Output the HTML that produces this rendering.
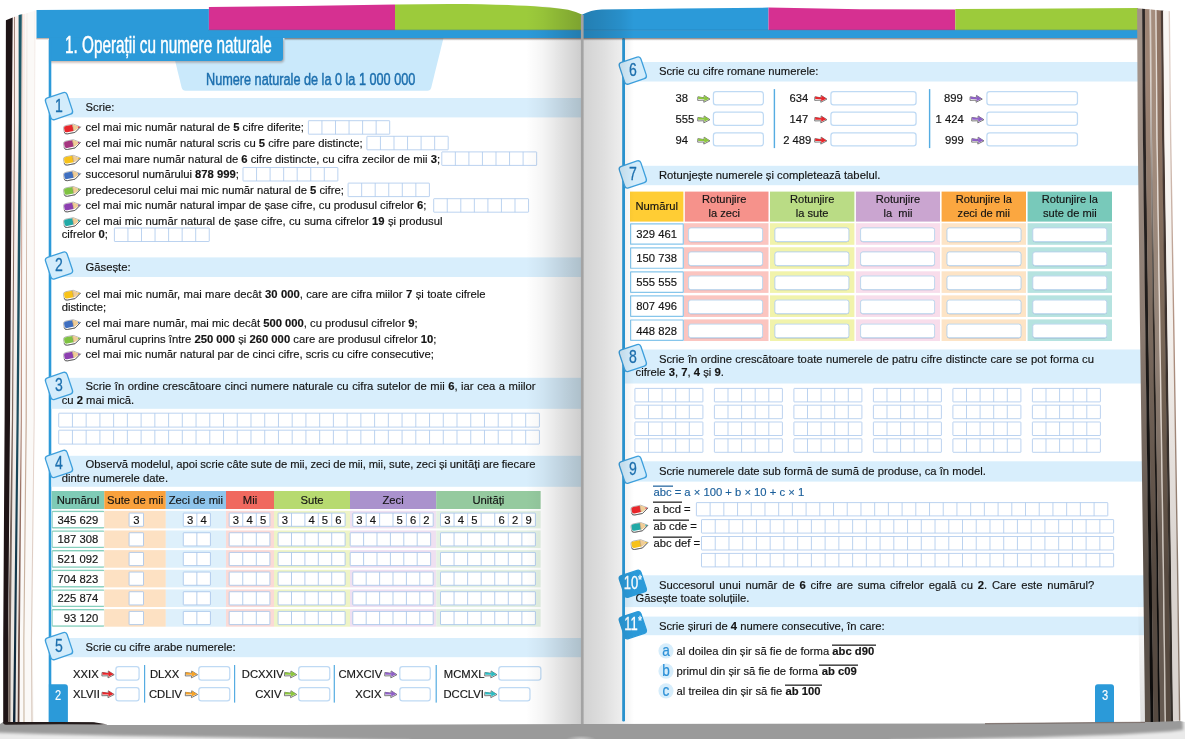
<!DOCTYPE html>
<html lang="ro"><head><meta charset="utf-8"><title>Operații cu numere naturale</title>
<style>
html,body{margin:0;padding:0;background:#fff;}
body{width:1185px;height:739px;overflow:hidden;position:relative;font-family:"Liberation Sans",sans-serif;}
#p{position:absolute;left:0;top:0;width:1185px;height:739px;overflow:hidden;}
#p div,#p svg{position:absolute;}
.bg{left:0;top:0;}
.t{font-size:11.25px;line-height:13px;color:#141414;white-space:nowrap;-webkit-text-stroke:.16px #141414;}
.t b{font-weight:700;}
.hd{font-family:"Liberation Sans",sans-serif;white-space:nowrap;}
.ov{position:relative;}
.ov::before,.ov::after{content:"";position:absolute;left:0;right:-1.4px;height:1px;background:currentColor;}
.ov::before{top:-1.4px;opacity:.45;}
.ov::after{top:-.4px;opacity:.75;}
.sh{pointer-events:none;}
</style></head>
<body><div id="p">
<svg class="bg" width="1185" height="739" viewBox="0 0 1185 739"><defs><radialGradient id="spot" cx="0.5" cy="1" r="1" gradientTransform="translate(0.5 1) scale(0.5 1) translate(-0.5 -1)"><stop offset="0" stop-color="#fff" stop-opacity="0.45"/><stop offset="1" stop-color="#fff" stop-opacity="0"/></radialGradient><linearGradient id="tsh" x1="0" y1="0" x2="0" y2="1"><stop offset="0" stop-color="#6b4a3a" stop-opacity="0.55"/><stop offset="1" stop-color="#6b4a3a" stop-opacity="0"/></linearGradient></defs><rect width="1185" height="739" fill="#fff"/><linearGradient id="la" x1="0" y1="0" x2="0" y2="1"><stop offset="0" stop-color="#8a6a60"/><stop offset="1" stop-color="#6f625b"/></linearGradient><linearGradient id="lb" x1="0" y1="0" x2="0" y2="1"><stop offset="0" stop-color="#e2c4b8"/><stop offset="0.5" stop-color="#c09484"/><stop offset="1" stop-color="#573a33"/></linearGradient><linearGradient id="lc" x1="0" y1="0" x2="0" y2="1"><stop offset="0" stop-color="#f3ede8"/><stop offset="0.5" stop-color="#c3a694"/><stop offset="1" stop-color="#cdbca8"/></linearGradient><linearGradient id="ld" x1="0" y1="0" x2="0" y2="1"><stop offset="0" stop-color="#f7f1ee"/><stop offset="0.5" stop-color="#e8d6d0"/><stop offset="1" stop-color="#d6c6ba"/></linearGradient><linearGradient id="lt" x1="0" y1="0" x2="0" y2="1"><stop offset="0" stop-color="#1d5a6a"/><stop offset="0.6" stop-color="#1a4a5c"/><stop offset="1" stop-color="#0c2236"/></linearGradient><linearGradient id="lp" x1="0" y1="0" x2="0" y2="1"><stop offset="0" stop-color="#fbeeea"/><stop offset="0.5" stop-color="#f4efec"/><stop offset="1" stop-color="#e9e4df"/></linearGradient><path d="M12.5 17.6 L36.5 10.2 L35 120 L34.8 420 L32.6 640 L34 722.5 L8 722.5 L10 420 L11.9 120 Z" fill="#fbf9f7"/><path d="M12.6 17.6 L25 13.8 L24.9 120 L20.8 420 L18 640 L17 722.5 L8 722.5 L10 420 L11.9 120 Z" fill="url(#lp)"/><path d="M5.9 20.2 L12.7 17.6 L11.9 120 L10 420 L8.1 640 L8.2 723 L3.2 723 L3.2 640 L4.6 420 L5.7 120 Z" fill="#1e1416"/><path d="M14.2 17 L15 16.8 L14.9 120 L13.1 420 L10.8 640 L10.4 722.5 L8.2 722.5 L8.2 640 L11.9 420 L14.1 120 Z" fill="url(#la)"/><path d="M18.6 15 L21.8 14.2 L21.4 120 L18.7 420 L16.2 640 L15.4 722.5 L13 722.5 L14.1 640 L16.5 420 L18.7 120 Z" fill="url(#lt)"/><path d="M22 14.2 L22.8 14 L22.2 120 L21.9 420 L19.9 640 L19.4 722.5 L17.6 722.5 L18.1 640 L20.8 420 L21.4 120 Z" fill="url(#lb)"/><path d="M26.6 13.2 L27.4 13 L27.2 120 L26.8 420 L24.4 640 L24.6 722.5 L23.4 722.5 L23.3 640 L25.6 420 L26.4 120 Z" fill="url(#lc)"/><path d="M34.4 10.8 L35.2 10.6 L34.8 120 L34.6 420 L32 640 L32.6 722.5 L31.4 722.5 L30.9 640 L33.7 420 L34 120 Z" fill="url(#ld)"/><path d="M36.5 10.1 L208.9 9 L208.9 38 L36.5 38 Z" fill="#2b9ad9"/><path d="M208.9 7.1 L300 5.9 L395 4.6 L395 30.4 L208.9 30.4 Z" fill="#d63091"/><path d="M395 4.6 L450 3.9 C500 4 545 6.2 568 9.7 Q576 11.6 581.8 14.6 L581.8 30.4 L395 30.4 Z" fill="#9ccb3b"/><rect x="208" y="30.2" width="374" height="7.8" fill="#2b9ad9"/><path d="M581.8 14.7 C588 11.5 594 9.8 602 9.4 L680 8.4 L768.5 7.6 L768.5 30.4 L581.8 30.4 Z" fill="#2b9ad9"/><path d="M768.5 7.6 L860 9.3 L955.3 9.6 L955.3 30.4 L768.5 30.4 Z" fill="#d63091"/><path d="M955.3 8.9 L1138 8.1 L1138 30.4 L955.3 30.4 Z" fill="#9ccb3b"/><rect x="581.8" y="30.2" width="556.5" height="7.8" fill="#2b9ad9"/><rect x="208.5" y="29.6" width="930" height="1" fill="#1f6fa3" opacity="0.45"/><rect x="36.3" y="38" width="13" height="2" fill="url(#tsh)"/></svg>
<svg class="bg" width="1185" height="739" viewBox="0 0 1185 739"><defs><filter id="b1" x="-5%" y="-30%" width="110%" height="160%"><feGaussianBlur stdDeviation="0.9"/></filter><filter id="b2" x="-10%" y="-30%" width="120%" height="160%"><feGaussianBlur stdDeviation="0.55"/></filter></defs>
<path d="M169.5 38 H443.5 L431.2 87.8 Q430.4 90.7 427.4 90.7 H185.5 Q182.5 90.7 181.7 87.8 Z" fill="#cae9fb"/>
<path d="M50 39.5 H284 V59.6 Q284 62.5 281 62.5 H50 Z" fill="#6e4637" opacity=".42" filter="url(#b1)"/>
<path d="M49 37.5 H283 V58 Q283 61 280 61 H49 Z" fill="#2b9ad9"/>
<rect x="48.7" y="40" width="2.6" height="682" fill="#2b9ad9"/>
<rect x="51.5" y="98" width="530" height="19.4" fill="#d8eefc"/>
<rect x="-11.35" y="-11.35" width="22.7" height="22.7" rx="3" fill="#d3ecfb" stroke="#3d9fdc" stroke-width="1.3" transform="translate(59 106.1) rotate(-18.5)"/>
<g transform="translate(62.75 122.45) rotate(-11 10 6.5) scale(0.955)"><path d="M4 1.9 H11.9 L18.9 6.2 L12.2 10.8 H4 Q1.1 10.8 1.1 8.2 V4.5 Q1.1 1.9 4 1.9 Z" fill="#fff" stroke="#9a9a9a" stroke-width="0.7" stroke-linejoin="round"/><path d="M4 2.3 H11 V9.1 H4 Q1.7 9.1 1.7 7.3 V4.3 Q1.7 2.3 4 2.3 Z" fill="#e8262b"/><path d="M11 2.3 L12 2.3 L16.3 5 L16.3 7.2 L12.2 9.1 L11 9.1 Z" fill="#f0cd96"/><path d="M16.3 5 L18.3 6.2 L16.3 7.2 Z" fill="#e8262b"/><path d="M11 2.3 V9.1" stroke="#9c8468" stroke-width="0.5" fill="none"/><path d="M1.1 8.2 Q1.1 10.8 4 10.8 H12.2 L18.9 6.2" stroke="#5a5a5a" stroke-width="0.85" fill="none" stroke-linejoin="round"/></g>
<g fill="#fff" stroke="#adc9ec" stroke-width="0.82"><rect x="308.4" y="120.7" width="81.3" height="13.5" rx="0.4"/><path d="M321.95 120.7V134.2M335.5 120.7V134.2M349.05 120.7V134.2M362.6 120.7V134.2M376.15 120.7V134.2" fill="none"/></g>
<g transform="translate(62.75 138.05) rotate(-11 10 6.5) scale(0.955)"><path d="M4 1.9 H11.9 L18.9 6.2 L12.2 10.8 H4 Q1.1 10.8 1.1 8.2 V4.5 Q1.1 1.9 4 1.9 Z" fill="#fff" stroke="#9a9a9a" stroke-width="0.7" stroke-linejoin="round"/><path d="M4 2.3 H11 V9.1 H4 Q1.7 9.1 1.7 7.3 V4.3 Q1.7 2.3 4 2.3 Z" fill="#a5357f"/><path d="M11 2.3 L12 2.3 L16.3 5 L16.3 7.2 L12.2 9.1 L11 9.1 Z" fill="#f0cd96"/><path d="M16.3 5 L18.3 6.2 L16.3 7.2 Z" fill="#a5357f"/><path d="M11 2.3 V9.1" stroke="#9c8468" stroke-width="0.5" fill="none"/><path d="M1.1 8.2 Q1.1 10.8 4 10.8 H12.2 L18.9 6.2" stroke="#5a5a5a" stroke-width="0.85" fill="none" stroke-linejoin="round"/></g>
<g fill="#fff" stroke="#adc9ec" stroke-width="0.82"><rect x="366.9" y="136.3" width="81.3" height="13.5" rx="0.4"/><path d="M380.45 136.3V149.8M394 136.3V149.8M407.55 136.3V149.8M421.1 136.3V149.8M434.65 136.3V149.8" fill="none"/></g>
<g transform="translate(62.75 153.65) rotate(-11 10 6.5) scale(0.955)"><path d="M4 1.9 H11.9 L18.9 6.2 L12.2 10.8 H4 Q1.1 10.8 1.1 8.2 V4.5 Q1.1 1.9 4 1.9 Z" fill="#fff" stroke="#9a9a9a" stroke-width="0.7" stroke-linejoin="round"/><path d="M4 2.3 H11 V9.1 H4 Q1.7 9.1 1.7 7.3 V4.3 Q1.7 2.3 4 2.3 Z" fill="#f7c21a"/><path d="M11 2.3 L12 2.3 L16.3 5 L16.3 7.2 L12.2 9.1 L11 9.1 Z" fill="#f0cd96"/><path d="M16.3 5 L18.3 6.2 L16.3 7.2 Z" fill="#f7c21a"/><path d="M11 2.3 V9.1" stroke="#9c8468" stroke-width="0.5" fill="none"/><path d="M1.1 8.2 Q1.1 10.8 4 10.8 H12.2 L18.9 6.2" stroke="#5a5a5a" stroke-width="0.85" fill="none" stroke-linejoin="round"/></g>
<g fill="#fff" stroke="#adc9ec" stroke-width="0.82"><rect x="441.8" y="151.9" width="94.85" height="13.5" rx="0.4"/><path d="M455.35 151.9V165.4M468.9 151.9V165.4M482.45 151.9V165.4M496 151.9V165.4M509.55 151.9V165.4M523.1 151.9V165.4" fill="none"/></g>
<g transform="translate(62.75 169.25) rotate(-11 10 6.5) scale(0.955)"><path d="M4 1.9 H11.9 L18.9 6.2 L12.2 10.8 H4 Q1.1 10.8 1.1 8.2 V4.5 Q1.1 1.9 4 1.9 Z" fill="#fff" stroke="#9a9a9a" stroke-width="0.7" stroke-linejoin="round"/><path d="M4 2.3 H11 V9.1 H4 Q1.7 9.1 1.7 7.3 V4.3 Q1.7 2.3 4 2.3 Z" fill="#3f6fc0"/><path d="M11 2.3 L12 2.3 L16.3 5 L16.3 7.2 L12.2 9.1 L11 9.1 Z" fill="#f0cd96"/><path d="M16.3 5 L18.3 6.2 L16.3 7.2 Z" fill="#3f6fc0"/><path d="M11 2.3 V9.1" stroke="#9c8468" stroke-width="0.5" fill="none"/><path d="M1.1 8.2 Q1.1 10.8 4 10.8 H12.2 L18.9 6.2" stroke="#5a5a5a" stroke-width="0.85" fill="none" stroke-linejoin="round"/></g>
<g fill="#fff" stroke="#adc9ec" stroke-width="0.82"><rect x="243" y="167.5" width="94.85" height="13.5" rx="0.4"/><path d="M256.55 167.5V181M270.1 167.5V181M283.65 167.5V181M297.2 167.5V181M310.75 167.5V181M324.3 167.5V181" fill="none"/></g>
<g transform="translate(62.75 184.85) rotate(-11 10 6.5) scale(0.955)"><path d="M4 1.9 H11.9 L18.9 6.2 L12.2 10.8 H4 Q1.1 10.8 1.1 8.2 V4.5 Q1.1 1.9 4 1.9 Z" fill="#fff" stroke="#9a9a9a" stroke-width="0.7" stroke-linejoin="round"/><path d="M4 2.3 H11 V9.1 H4 Q1.7 9.1 1.7 7.3 V4.3 Q1.7 2.3 4 2.3 Z" fill="#7fc242"/><path d="M11 2.3 L12 2.3 L16.3 5 L16.3 7.2 L12.2 9.1 L11 9.1 Z" fill="#f0cd96"/><path d="M16.3 5 L18.3 6.2 L16.3 7.2 Z" fill="#7fc242"/><path d="M11 2.3 V9.1" stroke="#9c8468" stroke-width="0.5" fill="none"/><path d="M1.1 8.2 Q1.1 10.8 4 10.8 H12.2 L18.9 6.2" stroke="#5a5a5a" stroke-width="0.85" fill="none" stroke-linejoin="round"/></g>
<g fill="#fff" stroke="#adc9ec" stroke-width="0.82"><rect x="348.1" y="183.1" width="81.3" height="13.5" rx="0.4"/><path d="M361.65 183.1V196.6M375.2 183.1V196.6M388.75 183.1V196.6M402.3 183.1V196.6M415.85 183.1V196.6" fill="none"/></g>
<g transform="translate(62.75 200.45) rotate(-11 10 6.5) scale(0.955)"><path d="M4 1.9 H11.9 L18.9 6.2 L12.2 10.8 H4 Q1.1 10.8 1.1 8.2 V4.5 Q1.1 1.9 4 1.9 Z" fill="#fff" stroke="#9a9a9a" stroke-width="0.7" stroke-linejoin="round"/><path d="M4 2.3 H11 V9.1 H4 Q1.7 9.1 1.7 7.3 V4.3 Q1.7 2.3 4 2.3 Z" fill="#8c3fb0"/><path d="M11 2.3 L12 2.3 L16.3 5 L16.3 7.2 L12.2 9.1 L11 9.1 Z" fill="#f0cd96"/><path d="M16.3 5 L18.3 6.2 L16.3 7.2 Z" fill="#8c3fb0"/><path d="M11 2.3 V9.1" stroke="#9c8468" stroke-width="0.5" fill="none"/><path d="M1.1 8.2 Q1.1 10.8 4 10.8 H12.2 L18.9 6.2" stroke="#5a5a5a" stroke-width="0.85" fill="none" stroke-linejoin="round"/></g>
<g fill="#fff" stroke="#adc9ec" stroke-width="0.82"><rect x="433.7" y="198.7" width="94.85" height="13.5" rx="0.4"/><path d="M447.25 198.7V212.2M460.8 198.7V212.2M474.35 198.7V212.2M487.9 198.7V212.2M501.45 198.7V212.2M515 198.7V212.2" fill="none"/></g>
<g transform="translate(62.75 216.05) rotate(-11 10 6.5) scale(0.955)"><path d="M4 1.9 H11.9 L18.9 6.2 L12.2 10.8 H4 Q1.1 10.8 1.1 8.2 V4.5 Q1.1 1.9 4 1.9 Z" fill="#fff" stroke="#9a9a9a" stroke-width="0.7" stroke-linejoin="round"/><path d="M4 2.3 H11 V9.1 H4 Q1.7 9.1 1.7 7.3 V4.3 Q1.7 2.3 4 2.3 Z" fill="#22a9a6"/><path d="M11 2.3 L12 2.3 L16.3 5 L16.3 7.2 L12.2 9.1 L11 9.1 Z" fill="#f0cd96"/><path d="M16.3 5 L18.3 6.2 L16.3 7.2 Z" fill="#22a9a6"/><path d="M11 2.3 V9.1" stroke="#9c8468" stroke-width="0.5" fill="none"/><path d="M1.1 8.2 Q1.1 10.8 4 10.8 H12.2 L18.9 6.2" stroke="#5a5a5a" stroke-width="0.85" fill="none" stroke-linejoin="round"/></g>
<g fill="#fff" stroke="#adc9ec" stroke-width="0.82"><rect x="114.4" y="228" width="94.85" height="13.5" rx="0.4"/><path d="M127.95 228V241.5M141.5 228V241.5M155.05 228V241.5M168.6 228V241.5M182.15 228V241.5M195.7 228V241.5" fill="none"/></g>
<rect x="51.5" y="257.4" width="530" height="19.6" fill="#d8eefc"/>
<rect x="-11.35" y="-11.35" width="22.7" height="22.7" rx="3" fill="#d3ecfb" stroke="#3d9fdc" stroke-width="1.3" transform="translate(59 265.5) rotate(-18.5)"/>
<g transform="translate(62.75 288.65) rotate(-11 10 6.5) scale(0.955)"><path d="M4 1.9 H11.9 L18.9 6.2 L12.2 10.8 H4 Q1.1 10.8 1.1 8.2 V4.5 Q1.1 1.9 4 1.9 Z" fill="#fff" stroke="#9a9a9a" stroke-width="0.7" stroke-linejoin="round"/><path d="M4 2.3 H11 V9.1 H4 Q1.7 9.1 1.7 7.3 V4.3 Q1.7 2.3 4 2.3 Z" fill="#f7c21a"/><path d="M11 2.3 L12 2.3 L16.3 5 L16.3 7.2 L12.2 9.1 L11 9.1 Z" fill="#f0cd96"/><path d="M16.3 5 L18.3 6.2 L16.3 7.2 Z" fill="#f7c21a"/><path d="M11 2.3 V9.1" stroke="#9c8468" stroke-width="0.5" fill="none"/><path d="M1.1 8.2 Q1.1 10.8 4 10.8 H12.2 L18.9 6.2" stroke="#5a5a5a" stroke-width="0.85" fill="none" stroke-linejoin="round"/></g>
<g transform="translate(62.75 318.05) rotate(-11 10 6.5) scale(0.955)"><path d="M4 1.9 H11.9 L18.9 6.2 L12.2 10.8 H4 Q1.1 10.8 1.1 8.2 V4.5 Q1.1 1.9 4 1.9 Z" fill="#fff" stroke="#9a9a9a" stroke-width="0.7" stroke-linejoin="round"/><path d="M4 2.3 H11 V9.1 H4 Q1.7 9.1 1.7 7.3 V4.3 Q1.7 2.3 4 2.3 Z" fill="#3f6fc0"/><path d="M11 2.3 L12 2.3 L16.3 5 L16.3 7.2 L12.2 9.1 L11 9.1 Z" fill="#f0cd96"/><path d="M16.3 5 L18.3 6.2 L16.3 7.2 Z" fill="#3f6fc0"/><path d="M11 2.3 V9.1" stroke="#9c8468" stroke-width="0.5" fill="none"/><path d="M1.1 8.2 Q1.1 10.8 4 10.8 H12.2 L18.9 6.2" stroke="#5a5a5a" stroke-width="0.85" fill="none" stroke-linejoin="round"/></g>
<g transform="translate(62.75 333.75) rotate(-11 10 6.5) scale(0.955)"><path d="M4 1.9 H11.9 L18.9 6.2 L12.2 10.8 H4 Q1.1 10.8 1.1 8.2 V4.5 Q1.1 1.9 4 1.9 Z" fill="#fff" stroke="#9a9a9a" stroke-width="0.7" stroke-linejoin="round"/><path d="M4 2.3 H11 V9.1 H4 Q1.7 9.1 1.7 7.3 V4.3 Q1.7 2.3 4 2.3 Z" fill="#7fc242"/><path d="M11 2.3 L12 2.3 L16.3 5 L16.3 7.2 L12.2 9.1 L11 9.1 Z" fill="#f0cd96"/><path d="M16.3 5 L18.3 6.2 L16.3 7.2 Z" fill="#7fc242"/><path d="M11 2.3 V9.1" stroke="#9c8468" stroke-width="0.5" fill="none"/><path d="M1.1 8.2 Q1.1 10.8 4 10.8 H12.2 L18.9 6.2" stroke="#5a5a5a" stroke-width="0.85" fill="none" stroke-linejoin="round"/></g>
<g transform="translate(62.75 349.45) rotate(-11 10 6.5) scale(0.955)"><path d="M4 1.9 H11.9 L18.9 6.2 L12.2 10.8 H4 Q1.1 10.8 1.1 8.2 V4.5 Q1.1 1.9 4 1.9 Z" fill="#fff" stroke="#9a9a9a" stroke-width="0.7" stroke-linejoin="round"/><path d="M4 2.3 H11 V9.1 H4 Q1.7 9.1 1.7 7.3 V4.3 Q1.7 2.3 4 2.3 Z" fill="#8c3fb0"/><path d="M11 2.3 L12 2.3 L16.3 5 L16.3 7.2 L12.2 9.1 L11 9.1 Z" fill="#f0cd96"/><path d="M16.3 5 L18.3 6.2 L16.3 7.2 Z" fill="#8c3fb0"/><path d="M11 2.3 V9.1" stroke="#9c8468" stroke-width="0.5" fill="none"/><path d="M1.1 8.2 Q1.1 10.8 4 10.8 H12.2 L18.9 6.2" stroke="#5a5a5a" stroke-width="0.85" fill="none" stroke-linejoin="round"/></g>
<rect x="51.5" y="377.8" width="530" height="31" fill="#d8eefc"/>
<rect x="-11.35" y="-11.35" width="22.7" height="22.7" rx="3" fill="#d3ecfb" stroke="#3d9fdc" stroke-width="1.3" transform="translate(59 385.9) rotate(-18.5)"/>
<g fill="#fff" stroke="#adc9ec" stroke-width="0.82"><rect x="58.7" y="413.2" width="480.72" height="13.9" rx="0.4"/><path d="M72.44 413.2V427.1M86.17 413.2V427.1M99.91 413.2V427.1M113.64 413.2V427.1M127.38 413.2V427.1M141.11 413.2V427.1M154.84 413.2V427.1M168.58 413.2V427.1M182.31 413.2V427.1M196.05 413.2V427.1M209.78 413.2V427.1M223.52 413.2V427.1M237.25 413.2V427.1M250.99 413.2V427.1M264.72 413.2V427.1M278.46 413.2V427.1M292.19 413.2V427.1M305.93 413.2V427.1M319.66 413.2V427.1M333.4 413.2V427.1M347.13 413.2V427.1M360.87 413.2V427.1M374.6 413.2V427.1M388.34 413.2V427.1M402.07 413.2V427.1M415.81 413.2V427.1M429.54 413.2V427.1M443.28 413.2V427.1M457.01 413.2V427.1M470.75 413.2V427.1M484.48 413.2V427.1M498.22 413.2V427.1M511.95 413.2V427.1M525.69 413.2V427.1" fill="none"/></g>
<g fill="#fff" stroke="#adc9ec" stroke-width="0.82"><rect x="58.7" y="430.2" width="480.72" height="13.9" rx="0.4"/><path d="M72.44 430.2V444.1M86.17 430.2V444.1M99.91 430.2V444.1M113.64 430.2V444.1M127.38 430.2V444.1M141.11 430.2V444.1M154.84 430.2V444.1M168.58 430.2V444.1M182.31 430.2V444.1M196.05 430.2V444.1M209.78 430.2V444.1M223.52 430.2V444.1M237.25 430.2V444.1M250.99 430.2V444.1M264.72 430.2V444.1M278.46 430.2V444.1M292.19 430.2V444.1M305.93 430.2V444.1M319.66 430.2V444.1M333.4 430.2V444.1M347.13 430.2V444.1M360.87 430.2V444.1M374.6 430.2V444.1M388.34 430.2V444.1M402.07 430.2V444.1M415.81 430.2V444.1M429.54 430.2V444.1M443.28 430.2V444.1M457.01 430.2V444.1M470.75 430.2V444.1M484.48 430.2V444.1M498.22 430.2V444.1M511.95 430.2V444.1M525.69 430.2V444.1" fill="none"/></g>
<rect x="51.5" y="455.8" width="530" height="31" fill="#d8eefc"/>
<rect x="-11.35" y="-11.35" width="22.7" height="22.7" rx="3" fill="#d3ecfb" stroke="#3d9fdc" stroke-width="1.3" transform="translate(59 463.9) rotate(-18.5)"/>
<rect x="51.5" y="491" width="52.85" height="18" fill="#7fcbb6"/>
<rect x="104.3" y="491" width="61.55" height="18" fill="#f9a13d"/>
<rect x="165.8" y="491" width="60.25" height="18" fill="#8fc5ec"/>
<rect x="226" y="491" width="48.05" height="18" fill="#f0695f"/>
<rect x="274" y="491" width="76.05" height="18" fill="#b7da70"/>
<rect x="350" y="491" width="86.25" height="18" fill="#aa92cd"/>
<rect x="436.2" y="491" width="104.45" height="18" fill="#95ca9f"/>
<rect x="51.8" y="510.8" width="52.5" height="17.6" rx="1.2" fill="#86cfbd"/>
<rect x="52.7" y="512.1" width="51.6" height="15" fill="#fff"/>
<rect x="104.3" y="510.8" width="61.55" height="17.6" fill="#fde1c3"/>
<rect x="165.8" y="510.8" width="60.25" height="17.6" fill="#def0fb"/>
<rect x="226" y="510.8" width="48.05" height="17.6" fill="#fbdad6"/>
<rect x="274" y="510.8" width="76.05" height="17.6" fill="#eef4c6"/>
<rect x="350" y="510.8" width="86.25" height="17.6" fill="#efe0f1"/>
<rect x="436.2" y="510.8" width="104.45" height="17.6" fill="#e4f1e3"/>
<g fill="#fff" stroke="#a8c5ea" stroke-width="0.85"><rect x="129.1" y="513.1" width="14.4" height="13.2" rx="0.4"/><path d="" fill="none"/></g>
<g fill="#fff" stroke="#a8c5ea" stroke-width="0.85"><rect x="183.3" y="513.1" width="27.12" height="13.2" rx="0.4"/><path d="M196.86 513.1V526.3" fill="none"/></g>
<g fill="#fff" stroke="#a8c5ea" stroke-width="0.85"><rect x="229.2" y="513.1" width="40.68" height="13.2" rx="0.4"/><path d="M242.76 513.1V526.3M256.32 513.1V526.3" fill="none"/></g>
<g fill="#fff" stroke="#a8c5ea" stroke-width="0.85"><rect x="278.1" y="513.1" width="67" height="13.2" rx="0.4"/><path d="M291.5 513.1V526.3M304.9 513.1V526.3M318.3 513.1V526.3M331.7 513.1V526.3" fill="none"/></g>
<g fill="#fff" stroke="#a8c5ea" stroke-width="0.85"><rect x="352.8" y="513.1" width="80.4" height="13.2" rx="0.4"/><path d="M366.2 513.1V526.3M379.6 513.1V526.3M393 513.1V526.3M406.4 513.1V526.3M419.8 513.1V526.3" fill="none"/></g>
<g fill="#fff" stroke="#a8c5ea" stroke-width="0.85"><rect x="440.5" y="513.1" width="94.92" height="13.2" rx="0.4"/><path d="M454.06 513.1V526.3M467.62 513.1V526.3M481.18 513.1V526.3M494.74 513.1V526.3M508.3 513.1V526.3M521.86 513.1V526.3" fill="none"/></g>
<rect x="51.8" y="530.46" width="52.5" height="17.6" rx="1.2" fill="#86cfbd"/>
<rect x="52.7" y="531.76" width="51.6" height="15" fill="#fff"/>
<rect x="104.3" y="530.46" width="61.55" height="17.6" fill="#fde1c3"/>
<rect x="165.8" y="530.46" width="60.25" height="17.6" fill="#def0fb"/>
<rect x="226" y="530.46" width="48.05" height="17.6" fill="#fbdad6"/>
<rect x="274" y="530.46" width="76.05" height="17.6" fill="#eef4c6"/>
<rect x="350" y="530.46" width="86.25" height="17.6" fill="#efe0f1"/>
<rect x="436.2" y="530.46" width="104.45" height="17.6" fill="#e4f1e3"/>
<g fill="#fff" stroke="#a8c5ea" stroke-width="0.85"><rect x="129.1" y="532.76" width="14.4" height="13.2" rx="0.4"/><path d="" fill="none"/></g>
<g fill="#fff" stroke="#a8c5ea" stroke-width="0.85"><rect x="183.3" y="532.76" width="27.12" height="13.2" rx="0.4"/><path d="M196.86 532.76V545.96" fill="none"/></g>
<g fill="#fff" stroke="#a8c5ea" stroke-width="0.85"><rect x="229.2" y="532.76" width="40.68" height="13.2" rx="0.4"/><path d="M242.76 532.76V545.96M256.32 532.76V545.96" fill="none"/></g>
<g fill="#fff" stroke="#a8c5ea" stroke-width="0.85"><rect x="278.1" y="532.76" width="67" height="13.2" rx="0.4"/><path d="M291.5 532.76V545.96M304.9 532.76V545.96M318.3 532.76V545.96M331.7 532.76V545.96" fill="none"/></g>
<g fill="#fff" stroke="#a8c5ea" stroke-width="0.85"><rect x="350.2" y="532.76" width="80.4" height="13.2" rx="0.4"/><path d="M363.6 532.76V545.96M377 532.76V545.96M390.4 532.76V545.96M403.8 532.76V545.96M417.2 532.76V545.96" fill="none"/></g>
<g fill="#fff" stroke="#a8c5ea" stroke-width="0.85"><rect x="440.5" y="532.76" width="94.92" height="13.2" rx="0.4"/><path d="M454.06 532.76V545.96M467.62 532.76V545.96M481.18 532.76V545.96M494.74 532.76V545.96M508.3 532.76V545.96M521.86 532.76V545.96" fill="none"/></g>
<rect x="51.8" y="550.12" width="52.5" height="17.6" rx="1.2" fill="#86cfbd"/>
<rect x="52.7" y="551.42" width="51.6" height="15" fill="#fff"/>
<rect x="104.3" y="550.12" width="61.55" height="17.6" fill="#fde1c3"/>
<rect x="165.8" y="550.12" width="60.25" height="17.6" fill="#def0fb"/>
<rect x="226" y="550.12" width="48.05" height="17.6" fill="#fbdad6"/>
<rect x="274" y="550.12" width="76.05" height="17.6" fill="#eef4c6"/>
<rect x="350" y="550.12" width="86.25" height="17.6" fill="#efe0f1"/>
<rect x="436.2" y="550.12" width="104.45" height="17.6" fill="#e4f1e3"/>
<g fill="#fff" stroke="#a8c5ea" stroke-width="0.85"><rect x="129.1" y="552.42" width="14.4" height="13.2" rx="0.4"/><path d="" fill="none"/></g>
<g fill="#fff" stroke="#a8c5ea" stroke-width="0.85"><rect x="183.3" y="552.42" width="27.12" height="13.2" rx="0.4"/><path d="M196.86 552.42V565.62" fill="none"/></g>
<g fill="#fff" stroke="#a8c5ea" stroke-width="0.85"><rect x="229.2" y="552.42" width="40.68" height="13.2" rx="0.4"/><path d="M242.76 552.42V565.62M256.32 552.42V565.62" fill="none"/></g>
<g fill="#fff" stroke="#a8c5ea" stroke-width="0.85"><rect x="278.1" y="552.42" width="67" height="13.2" rx="0.4"/><path d="M291.5 552.42V565.62M304.9 552.42V565.62M318.3 552.42V565.62M331.7 552.42V565.62" fill="none"/></g>
<g fill="#fff" stroke="#a8c5ea" stroke-width="0.85"><rect x="350.2" y="552.42" width="80.4" height="13.2" rx="0.4"/><path d="M363.6 552.42V565.62M377 552.42V565.62M390.4 552.42V565.62M403.8 552.42V565.62M417.2 552.42V565.62" fill="none"/></g>
<g fill="#fff" stroke="#a8c5ea" stroke-width="0.85"><rect x="440.5" y="552.42" width="94.92" height="13.2" rx="0.4"/><path d="M454.06 552.42V565.62M467.62 552.42V565.62M481.18 552.42V565.62M494.74 552.42V565.62M508.3 552.42V565.62M521.86 552.42V565.62" fill="none"/></g>
<rect x="51.8" y="569.78" width="52.5" height="17.6" rx="1.2" fill="#86cfbd"/>
<rect x="52.7" y="571.08" width="51.6" height="15" fill="#fff"/>
<rect x="104.3" y="569.78" width="61.55" height="17.6" fill="#fde1c3"/>
<rect x="165.8" y="569.78" width="60.25" height="17.6" fill="#def0fb"/>
<rect x="226" y="569.78" width="48.05" height="17.6" fill="#fbdad6"/>
<rect x="274" y="569.78" width="76.05" height="17.6" fill="#eef4c6"/>
<rect x="350" y="569.78" width="86.25" height="17.6" fill="#efe0f1"/>
<rect x="436.2" y="569.78" width="104.45" height="17.6" fill="#e4f1e3"/>
<g fill="#fff" stroke="#a8c5ea" stroke-width="0.85"><rect x="129.1" y="572.08" width="14.4" height="13.2" rx="0.4"/><path d="" fill="none"/></g>
<g fill="#fff" stroke="#a8c5ea" stroke-width="0.85"><rect x="183.3" y="572.08" width="27.12" height="13.2" rx="0.4"/><path d="M196.86 572.08V585.28" fill="none"/></g>
<g fill="#fff" stroke="#a8c5ea" stroke-width="0.85"><rect x="229.2" y="572.08" width="40.68" height="13.2" rx="0.4"/><path d="M242.76 572.08V585.28M256.32 572.08V585.28" fill="none"/></g>
<g fill="#fff" stroke="#a8c5ea" stroke-width="0.85"><rect x="278.1" y="572.08" width="67" height="13.2" rx="0.4"/><path d="M291.5 572.08V585.28M304.9 572.08V585.28M318.3 572.08V585.28M331.7 572.08V585.28" fill="none"/></g>
<g fill="#fff" stroke="#a8c5ea" stroke-width="0.85"><rect x="352.8" y="572.08" width="80.4" height="13.2" rx="0.4"/><path d="M366.2 572.08V585.28M379.6 572.08V585.28M393 572.08V585.28M406.4 572.08V585.28M419.8 572.08V585.28" fill="none"/></g>
<g fill="#fff" stroke="#a8c5ea" stroke-width="0.85"><rect x="440.5" y="572.08" width="94.92" height="13.2" rx="0.4"/><path d="M454.06 572.08V585.28M467.62 572.08V585.28M481.18 572.08V585.28M494.74 572.08V585.28M508.3 572.08V585.28M521.86 572.08V585.28" fill="none"/></g>
<rect x="51.8" y="589.44" width="52.5" height="17.6" rx="1.2" fill="#86cfbd"/>
<rect x="52.7" y="590.74" width="51.6" height="15" fill="#fff"/>
<rect x="104.3" y="589.44" width="61.55" height="17.6" fill="#fde1c3"/>
<rect x="165.8" y="589.44" width="60.25" height="17.6" fill="#def0fb"/>
<rect x="226" y="589.44" width="48.05" height="17.6" fill="#fbdad6"/>
<rect x="274" y="589.44" width="76.05" height="17.6" fill="#eef4c6"/>
<rect x="350" y="589.44" width="86.25" height="17.6" fill="#efe0f1"/>
<rect x="436.2" y="589.44" width="104.45" height="17.6" fill="#e4f1e3"/>
<g fill="#fff" stroke="#a8c5ea" stroke-width="0.85"><rect x="129.1" y="591.74" width="14.4" height="13.2" rx="0.4"/><path d="" fill="none"/></g>
<g fill="#fff" stroke="#a8c5ea" stroke-width="0.85"><rect x="183.3" y="591.74" width="27.12" height="13.2" rx="0.4"/><path d="M196.86 591.74V604.94" fill="none"/></g>
<g fill="#fff" stroke="#a8c5ea" stroke-width="0.85"><rect x="229.2" y="591.74" width="40.68" height="13.2" rx="0.4"/><path d="M242.76 591.74V604.94M256.32 591.74V604.94" fill="none"/></g>
<g fill="#fff" stroke="#a8c5ea" stroke-width="0.85"><rect x="278.1" y="591.74" width="67" height="13.2" rx="0.4"/><path d="M291.5 591.74V604.94M304.9 591.74V604.94M318.3 591.74V604.94M331.7 591.74V604.94" fill="none"/></g>
<g fill="#fff" stroke="#a8c5ea" stroke-width="0.85"><rect x="352.8" y="591.74" width="80.4" height="13.2" rx="0.4"/><path d="M366.2 591.74V604.94M379.6 591.74V604.94M393 591.74V604.94M406.4 591.74V604.94M419.8 591.74V604.94" fill="none"/></g>
<g fill="#fff" stroke="#a8c5ea" stroke-width="0.85"><rect x="440.5" y="591.74" width="94.92" height="13.2" rx="0.4"/><path d="M454.06 591.74V604.94M467.62 591.74V604.94M481.18 591.74V604.94M494.74 591.74V604.94M508.3 591.74V604.94M521.86 591.74V604.94" fill="none"/></g>
<rect x="51.8" y="609.1" width="52.5" height="17.6" rx="1.2" fill="#86cfbd"/>
<rect x="52.7" y="610.4" width="51.6" height="15" fill="#fff"/>
<rect x="104.3" y="609.1" width="61.55" height="17.6" fill="#fde1c3"/>
<rect x="165.8" y="609.1" width="60.25" height="17.6" fill="#def0fb"/>
<rect x="226" y="609.1" width="48.05" height="17.6" fill="#fbdad6"/>
<rect x="274" y="609.1" width="76.05" height="17.6" fill="#eef4c6"/>
<rect x="350" y="609.1" width="86.25" height="17.6" fill="#efe0f1"/>
<rect x="436.2" y="609.1" width="104.45" height="17.6" fill="#e4f1e3"/>
<g fill="#fff" stroke="#a8c5ea" stroke-width="0.85"><rect x="129.1" y="611.4" width="14.4" height="13.2" rx="0.4"/><path d="" fill="none"/></g>
<g fill="#fff" stroke="#a8c5ea" stroke-width="0.85"><rect x="183.3" y="611.4" width="27.12" height="13.2" rx="0.4"/><path d="M196.86 611.4V624.6" fill="none"/></g>
<g fill="#fff" stroke="#a8c5ea" stroke-width="0.85"><rect x="229.2" y="611.4" width="40.68" height="13.2" rx="0.4"/><path d="M242.76 611.4V624.6M256.32 611.4V624.6" fill="none"/></g>
<g fill="#fff" stroke="#a8c5ea" stroke-width="0.85"><rect x="278.1" y="611.4" width="67" height="13.2" rx="0.4"/><path d="M291.5 611.4V624.6M304.9 611.4V624.6M318.3 611.4V624.6M331.7 611.4V624.6" fill="none"/></g>
<g fill="#fff" stroke="#a8c5ea" stroke-width="0.85"><rect x="352.8" y="611.4" width="80.4" height="13.2" rx="0.4"/><path d="M366.2 611.4V624.6M379.6 611.4V624.6M393 611.4V624.6M406.4 611.4V624.6M419.8 611.4V624.6" fill="none"/></g>
<g fill="#fff" stroke="#a8c5ea" stroke-width="0.85"><rect x="440.5" y="611.4" width="94.92" height="13.2" rx="0.4"/><path d="M454.06 611.4V624.6M467.62 611.4V624.6M481.18 611.4V624.6M494.74 611.4V624.6M508.3 611.4V624.6M521.86 611.4V624.6" fill="none"/></g>
<rect x="51.5" y="638" width="530" height="19.2" fill="#d8eefc"/>
<rect x="-11.35" y="-11.35" width="22.7" height="22.7" rx="3" fill="#d3ecfb" stroke="#3d9fdc" stroke-width="1.3" transform="translate(59 646.1) rotate(-18.5)"/>
<g transform="translate(101.2 669.7) rotate(3 6.5 4.2)"><path d="M0.8 2.7 L7 3.3 V0.9 L13 4.3 L7 7.8 V5.7 L0.8 6.2 Z" fill="#fff" stroke="#666" stroke-width="0.85" stroke-linejoin="round" transform="translate(0 0.35)"/><path d="M1.2 2.8 L7.3 3.5 V1.4 L12.4 4.3 L7.3 7 V5 L1.2 5.3 Z" fill="#e8262b"/></g>
<g transform="translate(101.2 689.5) rotate(3 6.5 4.2)"><path d="M0.8 2.7 L7 3.3 V0.9 L13 4.3 L7 7.8 V5.7 L0.8 6.2 Z" fill="#fff" stroke="#666" stroke-width="0.85" stroke-linejoin="round" transform="translate(0 0.35)"/><path d="M1.2 2.8 L7.3 3.5 V1.4 L12.4 4.3 L7.3 7 V5 L1.2 5.3 Z" fill="#e8262b"/></g>
<rect x="115.92" y="666.73" width="23.15" height="13.35" rx="2.6" fill="#fff" stroke="#bfdaf4" stroke-width="1.25"/>
<rect x="115.92" y="687.62" width="23.15" height="13.35" rx="2.6" fill="#fff" stroke="#bfdaf4" stroke-width="1.25"/>
<g transform="translate(184.6 669.7) rotate(3 6.5 4.2)"><path d="M0.8 2.7 L7 3.3 V0.9 L13 4.3 L7 7.8 V5.7 L0.8 6.2 Z" fill="#fff" stroke="#666" stroke-width="0.85" stroke-linejoin="round" transform="translate(0 0.35)"/><path d="M1.2 2.8 L7.3 3.5 V1.4 L12.4 4.3 L7.3 7 V5 L1.2 5.3 Z" fill="#f5a32a"/></g>
<g transform="translate(184.6 689.5) rotate(3 6.5 4.2)"><path d="M0.8 2.7 L7 3.3 V0.9 L13 4.3 L7 7.8 V5.7 L0.8 6.2 Z" fill="#fff" stroke="#666" stroke-width="0.85" stroke-linejoin="round" transform="translate(0 0.35)"/><path d="M1.2 2.8 L7.3 3.5 V1.4 L12.4 4.3 L7.3 7 V5 L1.2 5.3 Z" fill="#f5a32a"/></g>
<rect x="198.82" y="666.73" width="30.95" height="13.35" rx="2.6" fill="#fff" stroke="#bfdaf4" stroke-width="1.25"/>
<rect x="198.82" y="687.62" width="30.95" height="13.35" rx="2.6" fill="#fff" stroke="#bfdaf4" stroke-width="1.25"/>
<g transform="translate(283.8 669.7) rotate(3 6.5 4.2)"><path d="M0.8 2.7 L7 3.3 V0.9 L13 4.3 L7 7.8 V5.7 L0.8 6.2 Z" fill="#fff" stroke="#666" stroke-width="0.85" stroke-linejoin="round" transform="translate(0 0.35)"/><path d="M1.2 2.8 L7.3 3.5 V1.4 L12.4 4.3 L7.3 7 V5 L1.2 5.3 Z" fill="#8cc63f"/></g>
<g transform="translate(283.8 689.5) rotate(3 6.5 4.2)"><path d="M0.8 2.7 L7 3.3 V0.9 L13 4.3 L7 7.8 V5.7 L0.8 6.2 Z" fill="#fff" stroke="#666" stroke-width="0.85" stroke-linejoin="round" transform="translate(0 0.35)"/><path d="M1.2 2.8 L7.3 3.5 V1.4 L12.4 4.3 L7.3 7 V5 L1.2 5.3 Z" fill="#8cc63f"/></g>
<rect x="298.73" y="666.73" width="31.05" height="13.35" rx="2.6" fill="#fff" stroke="#bfdaf4" stroke-width="1.25"/>
<rect x="298.73" y="687.62" width="31.05" height="13.35" rx="2.6" fill="#fff" stroke="#bfdaf4" stroke-width="1.25"/>
<g transform="translate(384 669.7) rotate(3 6.5 4.2)"><path d="M0.8 2.7 L7 3.3 V0.9 L13 4.3 L7 7.8 V5.7 L0.8 6.2 Z" fill="#fff" stroke="#666" stroke-width="0.85" stroke-linejoin="round" transform="translate(0 0.35)"/><path d="M1.2 2.8 L7.3 3.5 V1.4 L12.4 4.3 L7.3 7 V5 L1.2 5.3 Z" fill="#8f60c6"/></g>
<g transform="translate(384 689.5) rotate(3 6.5 4.2)"><path d="M0.8 2.7 L7 3.3 V0.9 L13 4.3 L7 7.8 V5.7 L0.8 6.2 Z" fill="#fff" stroke="#666" stroke-width="0.85" stroke-linejoin="round" transform="translate(0 0.35)"/><path d="M1.2 2.8 L7.3 3.5 V1.4 L12.4 4.3 L7.3 7 V5 L1.2 5.3 Z" fill="#8f60c6"/></g>
<rect x="399.82" y="666.73" width="30.45" height="13.35" rx="2.6" fill="#fff" stroke="#bfdaf4" stroke-width="1.25"/>
<rect x="399.82" y="687.62" width="30.45" height="13.35" rx="2.6" fill="#fff" stroke="#bfdaf4" stroke-width="1.25"/>
<g transform="translate(484 669.7) rotate(3 6.5 4.2)"><path d="M0.8 2.7 L7 3.3 V0.9 L13 4.3 L7 7.8 V5.7 L0.8 6.2 Z" fill="#fff" stroke="#666" stroke-width="0.85" stroke-linejoin="round" transform="translate(0 0.35)"/><path d="M1.2 2.8 L7.3 3.5 V1.4 L12.4 4.3 L7.3 7 V5 L1.2 5.3 Z" fill="#2cbcc2"/></g>
<g transform="translate(484 689.5) rotate(3 6.5 4.2)"><path d="M0.8 2.7 L7 3.3 V0.9 L13 4.3 L7 7.8 V5.7 L0.8 6.2 Z" fill="#fff" stroke="#666" stroke-width="0.85" stroke-linejoin="round" transform="translate(0 0.35)"/><path d="M1.2 2.8 L7.3 3.5 V1.4 L12.4 4.3 L7.3 7 V5 L1.2 5.3 Z" fill="#2cbcc2"/></g>
<rect x="498.82" y="666.73" width="42.05" height="13.35" rx="2.6" fill="#fff" stroke="#bfdaf4" stroke-width="1.25"/>
<rect x="498.82" y="687.62" width="31.15" height="13.35" rx="2.6" fill="#fff" stroke="#bfdaf4" stroke-width="1.25"/>
<rect x="144" y="665" width="1.2" height="37.6" fill="#55ace2"/>
<rect x="234" y="665" width="1.2" height="37.6" fill="#55ace2"/>
<rect x="333.7" y="665" width="1.2" height="37.6" fill="#55ace2"/>
<rect x="435.6" y="665" width="1.2" height="37.6" fill="#55ace2"/>
<path d="M48.9 684.2 H65 Q67.9 684.2 67.9 687.1 V722.5 H48.9 Z" fill="#2b9ad9"/>
<rect x="622.2" y="38" width="2.8" height="683.5" rx="1.3" fill="#2b9ad9"/>
<rect x="625" y="62" width="521" height="19.5" fill="#d8eefc"/>
<rect x="-11.35" y="-11.35" width="22.7" height="22.7" rx="3" fill="#d3ecfb" stroke="#3d9fdc" stroke-width="1.3" transform="translate(632.8 70.6) rotate(-18.5)"/>
<g transform="translate(697 94.1) rotate(3 6.5 4.2)"><path d="M0.8 2.7 L7 3.3 V0.9 L13 4.3 L7 7.8 V5.7 L0.8 6.2 Z" fill="#fff" stroke="#666" stroke-width="0.85" stroke-linejoin="round" transform="translate(0 0.35)"/><path d="M1.2 2.8 L7.3 3.5 V1.4 L12.4 4.3 L7.3 7 V5 L1.2 5.3 Z" fill="#8cc63f"/></g>
<rect x="713.42" y="91.72" width="49.95" height="13.15" rx="2.6" fill="#fff" stroke="#bfdaf4" stroke-width="1.25"/>
<g transform="translate(814 94.1) rotate(3 6.5 4.2)"><path d="M0.8 2.7 L7 3.3 V0.9 L13 4.3 L7 7.8 V5.7 L0.8 6.2 Z" fill="#fff" stroke="#666" stroke-width="0.85" stroke-linejoin="round" transform="translate(0 0.35)"/><path d="M1.2 2.8 L7.3 3.5 V1.4 L12.4 4.3 L7.3 7 V5 L1.2 5.3 Z" fill="#e8262b"/></g>
<rect x="830.92" y="91.72" width="85.15" height="13.15" rx="2.6" fill="#fff" stroke="#bfdaf4" stroke-width="1.25"/>
<g transform="translate(969.3 94.1) rotate(3 6.5 4.2)"><path d="M0.8 2.7 L7 3.3 V0.9 L13 4.3 L7 7.8 V5.7 L0.8 6.2 Z" fill="#fff" stroke="#666" stroke-width="0.85" stroke-linejoin="round" transform="translate(0 0.35)"/><path d="M1.2 2.8 L7.3 3.5 V1.4 L12.4 4.3 L7.3 7 V5 L1.2 5.3 Z" fill="#8f60c6"/></g>
<rect x="986.92" y="91.72" width="90.55" height="13.15" rx="2.6" fill="#fff" stroke="#bfdaf4" stroke-width="1.25"/>
<g transform="translate(697 114.7) rotate(3 6.5 4.2)"><path d="M0.8 2.7 L7 3.3 V0.9 L13 4.3 L7 7.8 V5.7 L0.8 6.2 Z" fill="#fff" stroke="#666" stroke-width="0.85" stroke-linejoin="round" transform="translate(0 0.35)"/><path d="M1.2 2.8 L7.3 3.5 V1.4 L12.4 4.3 L7.3 7 V5 L1.2 5.3 Z" fill="#8cc63f"/></g>
<rect x="713.42" y="112.12" width="49.95" height="13.15" rx="2.6" fill="#fff" stroke="#bfdaf4" stroke-width="1.25"/>
<g transform="translate(814 114.7) rotate(3 6.5 4.2)"><path d="M0.8 2.7 L7 3.3 V0.9 L13 4.3 L7 7.8 V5.7 L0.8 6.2 Z" fill="#fff" stroke="#666" stroke-width="0.85" stroke-linejoin="round" transform="translate(0 0.35)"/><path d="M1.2 2.8 L7.3 3.5 V1.4 L12.4 4.3 L7.3 7 V5 L1.2 5.3 Z" fill="#e8262b"/></g>
<rect x="830.92" y="112.12" width="85.15" height="13.15" rx="2.6" fill="#fff" stroke="#bfdaf4" stroke-width="1.25"/>
<g transform="translate(971 114.7) rotate(3 6.5 4.2)"><path d="M0.8 2.7 L7 3.3 V0.9 L13 4.3 L7 7.8 V5.7 L0.8 6.2 Z" fill="#fff" stroke="#666" stroke-width="0.85" stroke-linejoin="round" transform="translate(0 0.35)"/><path d="M1.2 2.8 L7.3 3.5 V1.4 L12.4 4.3 L7.3 7 V5 L1.2 5.3 Z" fill="#8f60c6"/></g>
<rect x="986.92" y="112.12" width="90.55" height="13.15" rx="2.6" fill="#fff" stroke="#bfdaf4" stroke-width="1.25"/>
<g transform="translate(697 135.9) rotate(3 6.5 4.2)"><path d="M0.8 2.7 L7 3.3 V0.9 L13 4.3 L7 7.8 V5.7 L0.8 6.2 Z" fill="#fff" stroke="#666" stroke-width="0.85" stroke-linejoin="round" transform="translate(0 0.35)"/><path d="M1.2 2.8 L7.3 3.5 V1.4 L12.4 4.3 L7.3 7 V5 L1.2 5.3 Z" fill="#8cc63f"/></g>
<rect x="713.42" y="132.82" width="49.95" height="13.15" rx="2.6" fill="#fff" stroke="#bfdaf4" stroke-width="1.25"/>
<g transform="translate(814 135.9) rotate(3 6.5 4.2)"><path d="M0.8 2.7 L7 3.3 V0.9 L13 4.3 L7 7.8 V5.7 L0.8 6.2 Z" fill="#fff" stroke="#666" stroke-width="0.85" stroke-linejoin="round" transform="translate(0 0.35)"/><path d="M1.2 2.8 L7.3 3.5 V1.4 L12.4 4.3 L7.3 7 V5 L1.2 5.3 Z" fill="#e8262b"/></g>
<rect x="830.92" y="132.82" width="85.15" height="13.15" rx="2.6" fill="#fff" stroke="#bfdaf4" stroke-width="1.25"/>
<g transform="translate(971 135.9) rotate(3 6.5 4.2)"><path d="M0.8 2.7 L7 3.3 V0.9 L13 4.3 L7 7.8 V5.7 L0.8 6.2 Z" fill="#fff" stroke="#666" stroke-width="0.85" stroke-linejoin="round" transform="translate(0 0.35)"/><path d="M1.2 2.8 L7.3 3.5 V1.4 L12.4 4.3 L7.3 7 V5 L1.2 5.3 Z" fill="#8f60c6"/></g>
<rect x="986.92" y="132.82" width="90.55" height="13.15" rx="2.6" fill="#fff" stroke="#bfdaf4" stroke-width="1.25"/>
<rect x="773.7" y="89.1" width="1.4" height="59" fill="#55ace2"/>
<rect x="928.9" y="89.1" width="1.4" height="59" fill="#55ace2"/>
<rect x="625" y="165.8" width="521" height="19.4" fill="#d8eefc"/>
<rect x="-11.35" y="-11.35" width="22.7" height="22.7" rx="3" fill="#d3ecfb" stroke="#3d9fdc" stroke-width="1.3" transform="translate(632.8 174.4) rotate(-18.5)"/>
<rect x="630" y="191.6" width="53.4" height="30" fill="#ffcd34"/>
<rect x="684.8" y="191.6" width="83.7" height="30" fill="#f6928b"/>
<rect x="770" y="191.6" width="84.4" height="30" fill="#badc85"/>
<rect x="855.9" y="191.6" width="84.1" height="30" fill="#caa5d0"/>
<rect x="941.6" y="191.6" width="84.4" height="30" fill="#fba740"/>
<rect x="1027.6" y="191.6" width="84.4" height="30" fill="#78c9ba"/>
<rect x="630.6" y="223.8" width="52.7" height="20.4" rx="0.3" fill="#fff" stroke="#86c6eb" stroke-width="1.2"/>
<rect x="683.9" y="223.2" width="84.6" height="21.6" fill="#fbc5c0"/>
<rect x="688.4" y="227.8" width="74.4" height="14.4" rx="2.4" fill="#6e7daa" opacity=".5" filter="url(#b2)"/>
<rect x="688.6" y="227.9" width="74" height="13.6" rx="2.2" fill="#fff" stroke="#bfd9ef" stroke-width="1"/>
<rect x="770" y="223.2" width="84.4" height="21.6" fill="#f1f3ab"/>
<rect x="774.7" y="227.8" width="74.4" height="14.4" rx="2.4" fill="#6e7daa" opacity=".5" filter="url(#b2)"/>
<rect x="774.9" y="227.9" width="74" height="13.6" rx="2.2" fill="#fff" stroke="#bfd9ef" stroke-width="1"/>
<rect x="855.9" y="223.2" width="84.1" height="21.6" fill="#f8ddeb"/>
<rect x="860.4" y="227.8" width="74.4" height="14.4" rx="2.4" fill="#6e7daa" opacity=".5" filter="url(#b2)"/>
<rect x="860.6" y="227.9" width="74" height="13.6" rx="2.2" fill="#fff" stroke="#bfd9ef" stroke-width="1"/>
<rect x="941.6" y="223.2" width="84.4" height="21.6" fill="#fde4c6"/>
<rect x="946.8" y="227.8" width="74.4" height="14.4" rx="2.4" fill="#6e7daa" opacity=".5" filter="url(#b2)"/>
<rect x="947" y="227.9" width="74" height="13.6" rx="2.2" fill="#fff" stroke="#bfd9ef" stroke-width="1"/>
<rect x="1027.6" y="223.2" width="84.4" height="21.6" fill="#b6e3e0"/>
<rect x="1032.6" y="227.8" width="74.4" height="14.4" rx="2.4" fill="#6e7daa" opacity=".5" filter="url(#b2)"/>
<rect x="1032.8" y="227.9" width="74" height="13.6" rx="2.2" fill="#fff" stroke="#bfd9ef" stroke-width="1"/>
<rect x="630.6" y="247.85" width="52.7" height="20.4" rx="0.3" fill="#fff" stroke="#86c6eb" stroke-width="1.2"/>
<rect x="683.9" y="247.25" width="84.6" height="21.6" fill="#fbc5c0"/>
<rect x="688.4" y="251.85" width="74.4" height="14.4" rx="2.4" fill="#6e7daa" opacity=".5" filter="url(#b2)"/>
<rect x="688.6" y="251.95" width="74" height="13.6" rx="2.2" fill="#fff" stroke="#bfd9ef" stroke-width="1"/>
<rect x="770" y="247.25" width="84.4" height="21.6" fill="#f1f3ab"/>
<rect x="774.7" y="251.85" width="74.4" height="14.4" rx="2.4" fill="#6e7daa" opacity=".5" filter="url(#b2)"/>
<rect x="774.9" y="251.95" width="74" height="13.6" rx="2.2" fill="#fff" stroke="#bfd9ef" stroke-width="1"/>
<rect x="855.9" y="247.25" width="84.1" height="21.6" fill="#f8ddeb"/>
<rect x="860.4" y="251.85" width="74.4" height="14.4" rx="2.4" fill="#6e7daa" opacity=".5" filter="url(#b2)"/>
<rect x="860.6" y="251.95" width="74" height="13.6" rx="2.2" fill="#fff" stroke="#bfd9ef" stroke-width="1"/>
<rect x="941.6" y="247.25" width="84.4" height="21.6" fill="#fde4c6"/>
<rect x="946.8" y="251.85" width="74.4" height="14.4" rx="2.4" fill="#6e7daa" opacity=".5" filter="url(#b2)"/>
<rect x="947" y="251.95" width="74" height="13.6" rx="2.2" fill="#fff" stroke="#bfd9ef" stroke-width="1"/>
<rect x="1027.6" y="247.25" width="84.4" height="21.6" fill="#b6e3e0"/>
<rect x="1032.6" y="251.85" width="74.4" height="14.4" rx="2.4" fill="#6e7daa" opacity=".5" filter="url(#b2)"/>
<rect x="1032.8" y="251.95" width="74" height="13.6" rx="2.2" fill="#fff" stroke="#bfd9ef" stroke-width="1"/>
<rect x="630.6" y="271.9" width="52.7" height="20.4" rx="0.3" fill="#fff" stroke="#86c6eb" stroke-width="1.2"/>
<rect x="683.9" y="271.3" width="84.6" height="21.6" fill="#fbc5c0"/>
<rect x="688.4" y="275.9" width="74.4" height="14.4" rx="2.4" fill="#6e7daa" opacity=".5" filter="url(#b2)"/>
<rect x="688.6" y="276" width="74" height="13.6" rx="2.2" fill="#fff" stroke="#bfd9ef" stroke-width="1"/>
<rect x="770" y="271.3" width="84.4" height="21.6" fill="#f1f3ab"/>
<rect x="774.7" y="275.9" width="74.4" height="14.4" rx="2.4" fill="#6e7daa" opacity=".5" filter="url(#b2)"/>
<rect x="774.9" y="276" width="74" height="13.6" rx="2.2" fill="#fff" stroke="#bfd9ef" stroke-width="1"/>
<rect x="855.9" y="271.3" width="84.1" height="21.6" fill="#f8ddeb"/>
<rect x="860.4" y="275.9" width="74.4" height="14.4" rx="2.4" fill="#6e7daa" opacity=".5" filter="url(#b2)"/>
<rect x="860.6" y="276" width="74" height="13.6" rx="2.2" fill="#fff" stroke="#bfd9ef" stroke-width="1"/>
<rect x="941.6" y="271.3" width="84.4" height="21.6" fill="#fde4c6"/>
<rect x="946.8" y="275.9" width="74.4" height="14.4" rx="2.4" fill="#6e7daa" opacity=".5" filter="url(#b2)"/>
<rect x="947" y="276" width="74" height="13.6" rx="2.2" fill="#fff" stroke="#bfd9ef" stroke-width="1"/>
<rect x="1027.6" y="271.3" width="84.4" height="21.6" fill="#b6e3e0"/>
<rect x="1032.6" y="275.9" width="74.4" height="14.4" rx="2.4" fill="#6e7daa" opacity=".5" filter="url(#b2)"/>
<rect x="1032.8" y="276" width="74" height="13.6" rx="2.2" fill="#fff" stroke="#bfd9ef" stroke-width="1"/>
<rect x="630.6" y="295.95" width="52.7" height="20.4" rx="0.3" fill="#fff" stroke="#86c6eb" stroke-width="1.2"/>
<rect x="683.9" y="295.35" width="84.6" height="21.6" fill="#fbc5c0"/>
<rect x="688.4" y="299.95" width="74.4" height="14.4" rx="2.4" fill="#6e7daa" opacity=".5" filter="url(#b2)"/>
<rect x="688.6" y="300.05" width="74" height="13.6" rx="2.2" fill="#fff" stroke="#bfd9ef" stroke-width="1"/>
<rect x="770" y="295.35" width="84.4" height="21.6" fill="#f1f3ab"/>
<rect x="774.7" y="299.95" width="74.4" height="14.4" rx="2.4" fill="#6e7daa" opacity=".5" filter="url(#b2)"/>
<rect x="774.9" y="300.05" width="74" height="13.6" rx="2.2" fill="#fff" stroke="#bfd9ef" stroke-width="1"/>
<rect x="855.9" y="295.35" width="84.1" height="21.6" fill="#f8ddeb"/>
<rect x="860.4" y="299.95" width="74.4" height="14.4" rx="2.4" fill="#6e7daa" opacity=".5" filter="url(#b2)"/>
<rect x="860.6" y="300.05" width="74" height="13.6" rx="2.2" fill="#fff" stroke="#bfd9ef" stroke-width="1"/>
<rect x="941.6" y="295.35" width="84.4" height="21.6" fill="#fde4c6"/>
<rect x="946.8" y="299.95" width="74.4" height="14.4" rx="2.4" fill="#6e7daa" opacity=".5" filter="url(#b2)"/>
<rect x="947" y="300.05" width="74" height="13.6" rx="2.2" fill="#fff" stroke="#bfd9ef" stroke-width="1"/>
<rect x="1027.6" y="295.35" width="84.4" height="21.6" fill="#b6e3e0"/>
<rect x="1032.6" y="299.95" width="74.4" height="14.4" rx="2.4" fill="#6e7daa" opacity=".5" filter="url(#b2)"/>
<rect x="1032.8" y="300.05" width="74" height="13.6" rx="2.2" fill="#fff" stroke="#bfd9ef" stroke-width="1"/>
<rect x="630.6" y="320" width="52.7" height="20.4" rx="0.3" fill="#fff" stroke="#86c6eb" stroke-width="1.2"/>
<rect x="683.9" y="319.4" width="84.6" height="21.6" fill="#fbc5c0"/>
<rect x="688.4" y="324" width="74.4" height="14.4" rx="2.4" fill="#6e7daa" opacity=".5" filter="url(#b2)"/>
<rect x="688.6" y="324.1" width="74" height="13.6" rx="2.2" fill="#fff" stroke="#bfd9ef" stroke-width="1"/>
<rect x="770" y="319.4" width="84.4" height="21.6" fill="#f1f3ab"/>
<rect x="774.7" y="324" width="74.4" height="14.4" rx="2.4" fill="#6e7daa" opacity=".5" filter="url(#b2)"/>
<rect x="774.9" y="324.1" width="74" height="13.6" rx="2.2" fill="#fff" stroke="#bfd9ef" stroke-width="1"/>
<rect x="855.9" y="319.4" width="84.1" height="21.6" fill="#f8ddeb"/>
<rect x="860.4" y="324" width="74.4" height="14.4" rx="2.4" fill="#6e7daa" opacity=".5" filter="url(#b2)"/>
<rect x="860.6" y="324.1" width="74" height="13.6" rx="2.2" fill="#fff" stroke="#bfd9ef" stroke-width="1"/>
<rect x="941.6" y="319.4" width="84.4" height="21.6" fill="#fde4c6"/>
<rect x="946.8" y="324" width="74.4" height="14.4" rx="2.4" fill="#6e7daa" opacity=".5" filter="url(#b2)"/>
<rect x="947" y="324.1" width="74" height="13.6" rx="2.2" fill="#fff" stroke="#bfd9ef" stroke-width="1"/>
<rect x="1027.6" y="319.4" width="84.4" height="21.6" fill="#b6e3e0"/>
<rect x="1032.6" y="324" width="74.4" height="14.4" rx="2.4" fill="#6e7daa" opacity=".5" filter="url(#b2)"/>
<rect x="1032.8" y="324.1" width="74" height="13.6" rx="2.2" fill="#fff" stroke="#bfd9ef" stroke-width="1"/>
<rect x="625" y="349.5" width="521" height="34" fill="#d8eefc"/>
<rect x="-11.35" y="-11.35" width="22.7" height="22.7" rx="3" fill="#d3ecfb" stroke="#3d9fdc" stroke-width="1.3" transform="translate(632.8 358) rotate(-18.5)"/>
<g fill="#fff" stroke="#adc9ec" stroke-width="0.82"><rect x="634.9" y="388.4" width="68" height="13.5" rx="0.4"/><path d="M648.5 388.4V401.9M662.1 388.4V401.9M675.7 388.4V401.9M689.3 388.4V401.9" fill="none"/></g>
<g fill="#fff" stroke="#adc9ec" stroke-width="0.82"><rect x="634.9" y="405.2" width="68" height="13.5" rx="0.4"/><path d="M648.5 405.2V418.7M662.1 405.2V418.7M675.7 405.2V418.7M689.3 405.2V418.7" fill="none"/></g>
<g fill="#fff" stroke="#adc9ec" stroke-width="0.82"><rect x="634.9" y="422" width="68" height="13.5" rx="0.4"/><path d="M648.5 422V435.5M662.1 422V435.5M675.7 422V435.5M689.3 422V435.5" fill="none"/></g>
<g fill="#fff" stroke="#adc9ec" stroke-width="0.82"><rect x="634.9" y="438.8" width="68" height="13.5" rx="0.4"/><path d="M648.5 438.8V452.3M662.1 438.8V452.3M675.7 438.8V452.3M689.3 438.8V452.3" fill="none"/></g>
<g fill="#fff" stroke="#adc9ec" stroke-width="0.82"><rect x="714.4" y="388.4" width="68" height="13.5" rx="0.4"/><path d="M728 388.4V401.9M741.6 388.4V401.9M755.2 388.4V401.9M768.8 388.4V401.9" fill="none"/></g>
<g fill="#fff" stroke="#adc9ec" stroke-width="0.82"><rect x="714.4" y="405.2" width="68" height="13.5" rx="0.4"/><path d="M728 405.2V418.7M741.6 405.2V418.7M755.2 405.2V418.7M768.8 405.2V418.7" fill="none"/></g>
<g fill="#fff" stroke="#adc9ec" stroke-width="0.82"><rect x="714.4" y="422" width="68" height="13.5" rx="0.4"/><path d="M728 422V435.5M741.6 422V435.5M755.2 422V435.5M768.8 422V435.5" fill="none"/></g>
<g fill="#fff" stroke="#adc9ec" stroke-width="0.82"><rect x="714.4" y="438.8" width="68" height="13.5" rx="0.4"/><path d="M728 438.8V452.3M741.6 438.8V452.3M755.2 438.8V452.3M768.8 438.8V452.3" fill="none"/></g>
<g fill="#fff" stroke="#adc9ec" stroke-width="0.82"><rect x="793.9" y="388.4" width="68" height="13.5" rx="0.4"/><path d="M807.5 388.4V401.9M821.1 388.4V401.9M834.7 388.4V401.9M848.3 388.4V401.9" fill="none"/></g>
<g fill="#fff" stroke="#adc9ec" stroke-width="0.82"><rect x="793.9" y="405.2" width="68" height="13.5" rx="0.4"/><path d="M807.5 405.2V418.7M821.1 405.2V418.7M834.7 405.2V418.7M848.3 405.2V418.7" fill="none"/></g>
<g fill="#fff" stroke="#adc9ec" stroke-width="0.82"><rect x="793.9" y="422" width="68" height="13.5" rx="0.4"/><path d="M807.5 422V435.5M821.1 422V435.5M834.7 422V435.5M848.3 422V435.5" fill="none"/></g>
<g fill="#fff" stroke="#adc9ec" stroke-width="0.82"><rect x="793.9" y="438.8" width="68" height="13.5" rx="0.4"/><path d="M807.5 438.8V452.3M821.1 438.8V452.3M834.7 438.8V452.3M848.3 438.8V452.3" fill="none"/></g>
<g fill="#fff" stroke="#adc9ec" stroke-width="0.82"><rect x="873.4" y="388.4" width="68" height="13.5" rx="0.4"/><path d="M887 388.4V401.9M900.6 388.4V401.9M914.2 388.4V401.9M927.8 388.4V401.9" fill="none"/></g>
<g fill="#fff" stroke="#adc9ec" stroke-width="0.82"><rect x="873.4" y="405.2" width="68" height="13.5" rx="0.4"/><path d="M887 405.2V418.7M900.6 405.2V418.7M914.2 405.2V418.7M927.8 405.2V418.7" fill="none"/></g>
<g fill="#fff" stroke="#adc9ec" stroke-width="0.82"><rect x="873.4" y="422" width="68" height="13.5" rx="0.4"/><path d="M887 422V435.5M900.6 422V435.5M914.2 422V435.5M927.8 422V435.5" fill="none"/></g>
<g fill="#fff" stroke="#adc9ec" stroke-width="0.82"><rect x="873.4" y="438.8" width="68" height="13.5" rx="0.4"/><path d="M887 438.8V452.3M900.6 438.8V452.3M914.2 438.8V452.3M927.8 438.8V452.3" fill="none"/></g>
<g fill="#fff" stroke="#adc9ec" stroke-width="0.82"><rect x="952.9" y="388.4" width="68" height="13.5" rx="0.4"/><path d="M966.5 388.4V401.9M980.1 388.4V401.9M993.7 388.4V401.9M1007.3 388.4V401.9" fill="none"/></g>
<g fill="#fff" stroke="#adc9ec" stroke-width="0.82"><rect x="952.9" y="405.2" width="68" height="13.5" rx="0.4"/><path d="M966.5 405.2V418.7M980.1 405.2V418.7M993.7 405.2V418.7M1007.3 405.2V418.7" fill="none"/></g>
<g fill="#fff" stroke="#adc9ec" stroke-width="0.82"><rect x="952.9" y="422" width="68" height="13.5" rx="0.4"/><path d="M966.5 422V435.5M980.1 422V435.5M993.7 422V435.5M1007.3 422V435.5" fill="none"/></g>
<g fill="#fff" stroke="#adc9ec" stroke-width="0.82"><rect x="952.9" y="438.8" width="68" height="13.5" rx="0.4"/><path d="M966.5 438.8V452.3M980.1 438.8V452.3M993.7 438.8V452.3M1007.3 438.8V452.3" fill="none"/></g>
<g fill="#fff" stroke="#adc9ec" stroke-width="0.82"><rect x="1032.4" y="388.4" width="68" height="13.5" rx="0.4"/><path d="M1046 388.4V401.9M1059.6 388.4V401.9M1073.2 388.4V401.9M1086.8 388.4V401.9" fill="none"/></g>
<g fill="#fff" stroke="#adc9ec" stroke-width="0.82"><rect x="1032.4" y="405.2" width="68" height="13.5" rx="0.4"/><path d="M1046 405.2V418.7M1059.6 405.2V418.7M1073.2 405.2V418.7M1086.8 405.2V418.7" fill="none"/></g>
<g fill="#fff" stroke="#adc9ec" stroke-width="0.82"><rect x="1032.4" y="422" width="68" height="13.5" rx="0.4"/><path d="M1046 422V435.5M1059.6 422V435.5M1073.2 422V435.5M1086.8 422V435.5" fill="none"/></g>
<g fill="#fff" stroke="#adc9ec" stroke-width="0.82"><rect x="1032.4" y="438.8" width="68" height="13.5" rx="0.4"/><path d="M1046 438.8V452.3M1059.6 438.8V452.3M1073.2 438.8V452.3M1086.8 438.8V452.3" fill="none"/></g>
<rect x="625" y="461.3" width="521" height="20.3" fill="#d8eefc"/>
<rect x="-11.35" y="-11.35" width="22.7" height="22.7" rx="3" fill="#d3ecfb" stroke="#3d9fdc" stroke-width="1.3" transform="translate(632.8 469.8) rotate(-18.5)"/>
<g transform="translate(630.15 503.55) rotate(-11 10 6.5) scale(0.955)"><path d="M4 1.9 H11.9 L18.9 6.2 L12.2 10.8 H4 Q1.1 10.8 1.1 8.2 V4.5 Q1.1 1.9 4 1.9 Z" fill="#fff" stroke="#9a9a9a" stroke-width="0.7" stroke-linejoin="round"/><path d="M4 2.3 H11 V9.1 H4 Q1.7 9.1 1.7 7.3 V4.3 Q1.7 2.3 4 2.3 Z" fill="#e8262b"/><path d="M11 2.3 L12 2.3 L16.3 5 L16.3 7.2 L12.2 9.1 L11 9.1 Z" fill="#f0cd96"/><path d="M16.3 5 L18.3 6.2 L16.3 7.2 Z" fill="#e8262b"/><path d="M11 2.3 V9.1" stroke="#9c8468" stroke-width="0.5" fill="none"/><path d="M1.1 8.2 Q1.1 10.8 4 10.8 H12.2 L18.9 6.2" stroke="#5a5a5a" stroke-width="0.85" fill="none" stroke-linejoin="round"/></g>
<g transform="translate(630.15 520.85) rotate(-11 10 6.5) scale(0.955)"><path d="M4 1.9 H11.9 L18.9 6.2 L12.2 10.8 H4 Q1.1 10.8 1.1 8.2 V4.5 Q1.1 1.9 4 1.9 Z" fill="#fff" stroke="#9a9a9a" stroke-width="0.7" stroke-linejoin="round"/><path d="M4 2.3 H11 V9.1 H4 Q1.7 9.1 1.7 7.3 V4.3 Q1.7 2.3 4 2.3 Z" fill="#22a9a6"/><path d="M11 2.3 L12 2.3 L16.3 5 L16.3 7.2 L12.2 9.1 L11 9.1 Z" fill="#f0cd96"/><path d="M16.3 5 L18.3 6.2 L16.3 7.2 Z" fill="#22a9a6"/><path d="M11 2.3 V9.1" stroke="#9c8468" stroke-width="0.5" fill="none"/><path d="M1.1 8.2 Q1.1 10.8 4 10.8 H12.2 L18.9 6.2" stroke="#5a5a5a" stroke-width="0.85" fill="none" stroke-linejoin="round"/></g>
<g transform="translate(630.15 538.05) rotate(-11 10 6.5) scale(0.955)"><path d="M4 1.9 H11.9 L18.9 6.2 L12.2 10.8 H4 Q1.1 10.8 1.1 8.2 V4.5 Q1.1 1.9 4 1.9 Z" fill="#fff" stroke="#9a9a9a" stroke-width="0.7" stroke-linejoin="round"/><path d="M4 2.3 H11 V9.1 H4 Q1.7 9.1 1.7 7.3 V4.3 Q1.7 2.3 4 2.3 Z" fill="#f7c21a"/><path d="M11 2.3 L12 2.3 L16.3 5 L16.3 7.2 L12.2 9.1 L11 9.1 Z" fill="#f0cd96"/><path d="M16.3 5 L18.3 6.2 L16.3 7.2 Z" fill="#f7c21a"/><path d="M11 2.3 V9.1" stroke="#9c8468" stroke-width="0.5" fill="none"/><path d="M1.1 8.2 Q1.1 10.8 4 10.8 H12.2 L18.9 6.2" stroke="#5a5a5a" stroke-width="0.85" fill="none" stroke-linejoin="round"/></g>
<g fill="#fff" stroke="#adc9ec" stroke-width="0.82"><rect x="696.4" y="502.6" width="411.39" height="13.3" rx="0.4"/><path d="M710.11 502.6V515.9M723.83 502.6V515.9M737.54 502.6V515.9M751.25 502.6V515.9M764.96 502.6V515.9M778.68 502.6V515.9M792.39 502.6V515.9M806.1 502.6V515.9M819.82 502.6V515.9M833.53 502.6V515.9M847.24 502.6V515.9M860.96 502.6V515.9M874.67 502.6V515.9M888.38 502.6V515.9M902.1 502.6V515.9M915.81 502.6V515.9M929.52 502.6V515.9M943.23 502.6V515.9M956.95 502.6V515.9M970.66 502.6V515.9M984.37 502.6V515.9M998.09 502.6V515.9M1011.8 502.6V515.9M1025.51 502.6V515.9M1039.22 502.6V515.9M1052.94 502.6V515.9M1066.65 502.6V515.9M1080.36 502.6V515.9M1094.08 502.6V515.9" fill="none"/></g>
<g fill="#fff" stroke="#adc9ec" stroke-width="0.82"><rect x="701.5" y="519.6" width="412.11" height="13.5" rx="0.4"/><path d="M715.24 519.6V533.1M728.97 519.6V533.1M742.71 519.6V533.1M756.45 519.6V533.1M770.18 519.6V533.1M783.92 519.6V533.1M797.66 519.6V533.1M811.4 519.6V533.1M825.13 519.6V533.1M838.87 519.6V533.1M852.61 519.6V533.1M866.34 519.6V533.1M880.08 519.6V533.1M893.82 519.6V533.1M907.56 519.6V533.1M921.29 519.6V533.1M935.03 519.6V533.1M948.77 519.6V533.1M962.5 519.6V533.1M976.24 519.6V533.1M989.98 519.6V533.1M1003.71 519.6V533.1M1017.45 519.6V533.1M1031.19 519.6V533.1M1044.92 519.6V533.1M1058.66 519.6V533.1M1072.4 519.6V533.1M1086.14 519.6V533.1M1099.87 519.6V533.1" fill="none"/></g>
<g fill="#fff" stroke="#adc9ec" stroke-width="0.82"><rect x="701.5" y="536.5" width="412.11" height="13.5" rx="0.4"/><path d="M715.24 536.5V550M728.97 536.5V550M742.71 536.5V550M756.45 536.5V550M770.18 536.5V550M783.92 536.5V550M797.66 536.5V550M811.4 536.5V550M825.13 536.5V550M838.87 536.5V550M852.61 536.5V550M866.34 536.5V550M880.08 536.5V550M893.82 536.5V550M907.56 536.5V550M921.29 536.5V550M935.03 536.5V550M948.77 536.5V550M962.5 536.5V550M976.24 536.5V550M989.98 536.5V550M1003.71 536.5V550M1017.45 536.5V550M1031.19 536.5V550M1044.92 536.5V550M1058.66 536.5V550M1072.4 536.5V550M1086.14 536.5V550M1099.87 536.5V550" fill="none"/></g>
<g fill="#fff" stroke="#adc9ec" stroke-width="0.82"><rect x="701.5" y="553.4" width="412.11" height="13.5" rx="0.4"/><path d="M715.24 553.4V566.9M728.97 553.4V566.9M742.71 553.4V566.9M756.45 553.4V566.9M770.18 553.4V566.9M783.92 553.4V566.9M797.66 553.4V566.9M811.4 553.4V566.9M825.13 553.4V566.9M838.87 553.4V566.9M852.61 553.4V566.9M866.34 553.4V566.9M880.08 553.4V566.9M893.82 553.4V566.9M907.56 553.4V566.9M921.29 553.4V566.9M935.03 553.4V566.9M948.77 553.4V566.9M962.5 553.4V566.9M976.24 553.4V566.9M989.98 553.4V566.9M1003.71 553.4V566.9M1017.45 553.4V566.9M1031.19 553.4V566.9M1044.92 553.4V566.9M1058.66 553.4V566.9M1072.4 553.4V566.9M1086.14 553.4V566.9M1099.87 553.4V566.9" fill="none"/></g>
<rect x="625" y="575.3" width="521" height="31.8" fill="#d8eefc"/>
<rect x="-11.35" y="-11.35" width="22.7" height="22.7" rx="3" fill="#2b9ad9" stroke="#2b9ad9" stroke-width="1.3" transform="translate(632.8 583.8) rotate(-18.5)"/>
<rect x="625" y="616.6" width="521" height="18.6" fill="#d8eefc"/>
<rect x="-11.35" y="-11.35" width="22.7" height="22.7" rx="3" fill="#2b9ad9" stroke="#2b9ad9" stroke-width="1.3" transform="translate(632.8 625.2) rotate(-18.5)"/>
<circle cx="666" cy="650.8" r="7.6" fill="#d6edfb"/>
<circle cx="666" cy="671.1" r="7.6" fill="#d6edfb"/>
<circle cx="666" cy="690.8" r="7.6" fill="#d6edfb"/>
<path d="M1095 722.6 V687.1 Q1095 684.2 1097.9 684.2 H1111.1 Q1114 684.2 1114 687.1 V722.6 Z" fill="#2b9ad9"/></svg>
<div class="hd" style="top:37.54px;font-size:11.6px;line-height:13.92px;color:#fff;left:64.6px;transform:scale(1.32,2);transform-origin:0 50%;-webkit-text-stroke:0.25px #fff;">1. Operații cu numere naturale</div>
<div class="hd" style="top:74.31px;font-size:8.65px;line-height:10.38px;color:#1c6fae;left:206.3px;transform:scale(1.47,2);transform-origin:0 50%;-webkit-text-stroke:0.25px #1c6fae;">Numere naturale de la 0 la 1 000 000</div>
<div class="hd" style="top:101.55px;font-size:9.25px;line-height:11.1px;color:#1c6fae;left:39px;width:40px;text-align:center;transform:scale(1.52,2);transform-origin:50% 50%;-webkit-text-stroke:0.15px #1c6fae;">1</div>
<div class="t" style="left:85.6px;top:101.1px;">Scrie:</div>
<div class="t" style="left:85.6px;top:121.3px;">cel mai mic număr natural de <b>5</b> cifre diferite;</div>
<div class="t" style="left:85.6px;top:136.9px;">cel mai mic număr natural scris cu <b>5</b> cifre pare distincte;</div>
<div class="t" style="left:85.6px;top:152.5px;">cel mai mare număr natural de <b>6</b> cifre distincte, cu cifra zecilor de mii <b>3</b>;</div>
<div class="t" style="left:85.6px;top:168.1px;">succesorul numărului <b>878 999</b>;</div>
<div class="t" style="left:85.6px;top:183.7px;">predecesorul celui mai mic număr natural de <b>5</b> cifre;</div>
<div class="t" style="left:85.6px;top:199.3px;">cel mai mic număr natural impar de șase cifre, cu produsul cifrelor <b>6</b>;</div>
<div class="t" style="left:85.6px;top:214.9px;word-spacing:0.18px;">cel mai mic număr natural de șase cifre, cu suma cifrelor <b>19</b> și produsul</div>
<div class="t" style="left:61.7px;top:228.4px;">cifrelor <b>0</b>;</div>
<div class="hd" style="top:260.95px;font-size:9.25px;line-height:11.1px;color:#1c6fae;left:39px;width:40px;text-align:center;transform:scale(1.52,2);transform-origin:50% 50%;-webkit-text-stroke:0.15px #1c6fae;">2</div>
<div class="t" style="left:85.6px;top:260.6px;">Găsește:</div>
<div class="t" style="left:85.6px;top:287.5px;word-spacing:0.26px;">cel mai mic număr, mai mare decât <b>30 000</b>, care are cifra miilor <b>7</b> și toate cifrele</div>
<div class="t" style="left:61.7px;top:300.9px;">distincte;</div>
<div class="t" style="left:85.6px;top:316.9px;">cel mai mare număr, mai mic decât <b>500 000</b>, cu produsul cifrelor <b>9</b>;</div>
<div class="t" style="left:85.6px;top:332.6px;">numărul cuprins între <b>250 000</b> și <b>260 000</b> care are produsul cifrelor <b>10</b>;</div>
<div class="t" style="left:85.6px;top:348.3px;">cel mai mic număr natural par de cinci cifre, scris cu cifre consecutive;</div>
<div class="hd" style="top:381.35px;font-size:9.25px;line-height:11.1px;color:#1c6fae;left:39px;width:40px;text-align:center;transform:scale(1.52,2);transform-origin:50% 50%;-webkit-text-stroke:0.15px #1c6fae;">3</div>
<div class="t" style="left:85.6px;top:380.4px;word-spacing:0.41px;">Scrie în ordine crescătoare cinci numere naturale cu cifra sutelor de mii <b>6</b>, iar cea a miilor</div>
<div class="t" style="left:61.7px;top:393.5px;">cu <b>2</b> mai mică.</div>
<div class="hd" style="top:459.35px;font-size:9.25px;line-height:11.1px;color:#1c6fae;left:39px;width:40px;text-align:center;transform:scale(1.52,2);transform-origin:50% 50%;-webkit-text-stroke:0.15px #1c6fae;">4</div>
<div class="t" style="left:85.6px;top:458.1px;word-spacing:-0.35px;">Observă modelul, apoi scrie câte sute de mii, zeci de mii, mii, sute, zeci și unități are fiecare</div>
<div class="t" style="left:61.7px;top:471.5px;">dintre numerele date.</div>
<div class="t" style="left:51.5px;top:494.3px;width:52.8px;text-align:center;">Numărul</div>
<div class="t" style="left:104.3px;top:494.3px;width:61.5px;text-align:center;">Sute de mii</div>
<div class="t" style="left:165.8px;top:494.3px;width:60.2px;text-align:center;">Zeci de mii</div>
<div class="t" style="left:226px;top:494.3px;width:48px;text-align:center;">Mii</div>
<div class="t" style="left:274px;top:494.3px;width:76px;text-align:center;">Sute</div>
<div class="t" style="left:350px;top:494.3px;width:86.2px;text-align:center;">Zeci</div>
<div class="t" style="left:436.2px;top:494.3px;width:104.4px;text-align:center;">Unități</div>
<div class="t" style="left:51.5px;top:513.8px;width:46.7px;text-align:right;">345 629</div>
<div class="t" style="left:129.1px;top:513.8px;width:14.4px;text-align:center;">3</div>
<div class="t" style="left:183.3px;top:513.8px;width:13.56px;text-align:center;">3</div>
<div class="t" style="left:196.86px;top:513.8px;width:13.56px;text-align:center;">4</div>
<div class="t" style="left:229.2px;top:513.8px;width:13.56px;text-align:center;">3</div>
<div class="t" style="left:242.76px;top:513.8px;width:13.56px;text-align:center;">4</div>
<div class="t" style="left:256.32px;top:513.8px;width:13.56px;text-align:center;">5</div>
<div class="t" style="left:278.1px;top:513.8px;width:13.4px;text-align:center;">3</div>
<div class="t" style="left:304.9px;top:513.8px;width:13.4px;text-align:center;">4</div>
<div class="t" style="left:318.3px;top:513.8px;width:13.4px;text-align:center;">5</div>
<div class="t" style="left:331.7px;top:513.8px;width:13.4px;text-align:center;">6</div>
<div class="t" style="left:352.8px;top:513.8px;width:13.4px;text-align:center;">3</div>
<div class="t" style="left:366.2px;top:513.8px;width:13.4px;text-align:center;">4</div>
<div class="t" style="left:393px;top:513.8px;width:13.4px;text-align:center;">5</div>
<div class="t" style="left:406.4px;top:513.8px;width:13.4px;text-align:center;">6</div>
<div class="t" style="left:419.8px;top:513.8px;width:13.4px;text-align:center;">2</div>
<div class="t" style="left:440.5px;top:513.8px;width:13.56px;text-align:center;">3</div>
<div class="t" style="left:454.06px;top:513.8px;width:13.56px;text-align:center;">4</div>
<div class="t" style="left:467.62px;top:513.8px;width:13.56px;text-align:center;">5</div>
<div class="t" style="left:494.74px;top:513.8px;width:13.56px;text-align:center;">6</div>
<div class="t" style="left:508.3px;top:513.8px;width:13.56px;text-align:center;">2</div>
<div class="t" style="left:521.86px;top:513.8px;width:13.56px;text-align:center;">9</div>
<div class="t" style="left:51.5px;top:533.46px;width:46.7px;text-align:right;">187 308</div>
<div class="t" style="left:51.5px;top:553.12px;width:46.7px;text-align:right;">521 092</div>
<div class="t" style="left:51.5px;top:572.78px;width:46.7px;text-align:right;">704 823</div>
<div class="t" style="left:51.5px;top:592.44px;width:46.7px;text-align:right;">225 874</div>
<div class="t" style="left:51.5px;top:612.1px;width:46.7px;text-align:right;">93 120</div>
<div class="hd" style="top:641.55px;font-size:9.25px;line-height:11.1px;color:#1c6fae;left:39px;width:40px;text-align:center;transform:scale(1.52,2);transform-origin:50% 50%;-webkit-text-stroke:0.15px #1c6fae;">5</div>
<div class="t" style="left:85.6px;top:641.3px;">Scrie cu cifre arabe numerele:</div>
<div class="t" style="left:73.1px;top:667.8px;">XXIX</div>
<div class="t" style="left:73.1px;top:688.3px;">XLVII</div>
<div class="t" style="left:149.9px;top:667.8px;">DLXX</div>
<div class="t" style="left:148.9px;top:688.3px;">CDLIV</div>
<div class="t" style="left:241.8px;top:667.8px;">DCXXIV</div>
<div class="t" style="left:255.2px;top:688.3px;">CXIV</div>
<div class="t" style="left:338.5px;top:667.8px;">CMXCIV</div>
<div class="t" style="left:355.2px;top:688.3px;">XCIX</div>
<div class="t" style="left:443.8px;top:667.8px;">MCMXL</div>
<div class="t" style="left:443.5px;top:688.3px;">DCCLVI</div>
<div class="hd" style="top:690.1px;font-size:7.5px;line-height:9px;color:#fff;left:38.4px;width:40px;text-align:center;transform:scale(1.48,2);transform-origin:50% 50%;-webkit-text-stroke:0.05px #fff;">2</div>
<div class="hd" style="top:66.05px;font-size:9.25px;line-height:11.1px;color:#1c6fae;left:612.8px;width:40px;text-align:center;transform:scale(1.52,2);transform-origin:50% 50%;-webkit-text-stroke:0.15px #1c6fae;">6</div>
<div class="t" style="left:658.9px;top:65.3px;">Scrie cu cifre romane numerele:</div>
<div class="t" style="left:675.6px;top:92.2px;">38</div>
<div class="t" style="left:789.6px;top:92.2px;">634</div>
<div class="t" style="left:944px;top:92.2px;">899</div>
<div class="t" style="left:675.6px;top:112.8px;">555</div>
<div class="t" style="left:789.6px;top:112.8px;">147</div>
<div class="t" style="left:935.6px;top:112.8px;">1 424</div>
<div class="t" style="left:675.6px;top:134px;">94</div>
<div class="t" style="left:783.2px;top:134px;">2 489</div>
<div class="t" style="left:945px;top:134px;">999</div>
<div class="hd" style="top:169.85px;font-size:9.25px;line-height:11.1px;color:#1c6fae;left:612.8px;width:40px;text-align:center;transform:scale(1.52,2);transform-origin:50% 50%;-webkit-text-stroke:0.15px #1c6fae;">7</div>
<div class="t" style="left:658.9px;top:169.1px;">Rotunjește numerele și completează tabelul.</div>
<div class="t" style="left:630px;top:199.7px;width:53.4px;text-align:center;">Numărul</div>
<div class="t" style="left:682.4px;top:193.25px;font-size:11.1px;line-height:13.6px;width:83.7px;text-align:center;white-space:normal;">Rotunjire<br>la zeci</div>
<div class="t" style="left:770px;top:193.25px;font-size:11.1px;line-height:13.6px;width:84.4px;text-align:center;white-space:normal;">Rotunjire<br>la sute</div>
<div class="t" style="left:855.9px;top:193.25px;font-size:11.1px;line-height:13.6px;width:84.1px;text-align:center;white-space:normal;">Rotunjire<br>la&nbsp; mii</div>
<div class="t" style="left:941.6px;top:193.25px;font-size:11.1px;line-height:13.6px;width:84.4px;text-align:center;white-space:normal;">Rotunjire la<br>zeci de mii</div>
<div class="t" style="left:1027.6px;top:193.25px;font-size:11.1px;line-height:13.6px;width:84.4px;text-align:center;white-space:normal;">Rotunjire la<br>sute de mii</div>
<div class="t" style="left:636.3px;top:228.3px;">329 461</div>
<div class="t" style="left:636.3px;top:252.35px;">150 738</div>
<div class="t" style="left:636.3px;top:276.4px;">555 555</div>
<div class="t" style="left:636.3px;top:300.45px;">807 496</div>
<div class="t" style="left:636.3px;top:324.5px;">448 828</div>
<div class="hd" style="top:353.45px;font-size:9.25px;line-height:11.1px;color:#1c6fae;left:612.8px;width:40px;text-align:center;transform:scale(1.52,2);transform-origin:50% 50%;-webkit-text-stroke:0.15px #1c6fae;">8</div>
<div class="t" style="left:658.9px;top:352.9px;word-spacing:0.26px;">Scrie în ordine crescătoare toate numerele de patru cifre distincte care se pot forma cu</div>
<div class="t" style="left:635.6px;top:366.1px;">cifrele <b>3</b>, <b>7</b>, <b>4</b> și <b>9</b>.</div>
<div class="hd" style="top:465.25px;font-size:9.25px;line-height:11.1px;color:#1c6fae;left:612.8px;width:40px;text-align:center;transform:scale(1.52,2);transform-origin:50% 50%;-webkit-text-stroke:0.15px #1c6fae;">9</div>
<div class="t" style="left:658.9px;top:464.6px;">Scrie numerele date sub formă de sumă de produse, ca în model.</div>
<div class="t" style="left:653.4px;top:485.9px;color:#1b5f9b;-webkit-text-stroke-color:#1b5f9b;"><span class="ov">abc</span> = a × 100 + b × 10 + c × 1</div>
<div class="t" style="left:653.4px;top:502.6px;"><span class="ov">a bcd</span> =</div>
<div class="t" style="left:653.4px;top:519.9px;"><span class="ov">ab cde</span> =</div>
<div class="t" style="left:653.4px;top:537.1px;"><span class="ov">abc def</span> =</div>
<div class="hd" style="top:579.05px;font-size:9.25px;line-height:11.1px;color:#fff;left:611.4px;width:40px;text-align:center;transform:scale(1.4,2);transform-origin:50% 50%;-webkit-text-stroke:0.17px #fff;">10</div>
<div class="hd" style="top:575.5px;font-size:6.5px;line-height:7.8px;color:#fff;left:619.7px;width:40px;text-align:center;transform:scale(1.6,2);transform-origin:50% 50%;-webkit-text-stroke:0.15px #fff;">*</div>
<div class="t" style="left:658.9px;top:578.6px;word-spacing:1.7px;">Succesorul unui număr de <b>6</b> cifre are suma cifrelor egală cu <b>2</b>. Care este numărul?</div>
<div class="t" style="left:635.6px;top:592px;">Găsește toate soluțiile.</div>
<div class="hd" style="top:620.45px;font-size:9.25px;line-height:11.1px;color:#fff;left:611.4px;width:40px;text-align:center;transform:scale(1.4,2);transform-origin:50% 50%;-webkit-text-stroke:0.17px #fff;">11</div>
<div class="hd" style="top:616.9px;font-size:6.5px;line-height:7.8px;color:#fff;left:619.7px;width:40px;text-align:center;transform:scale(1.6,2);transform-origin:50% 50%;-webkit-text-stroke:0.15px #fff;">*</div>
<div class="t" style="left:658.9px;top:619.9px;">Scrie șiruri de <b>4</b> numere consecutive, în care:</div>
<div class="hd" style="top:645.1px;font-size:8.5px;line-height:10.2px;color:#2a8fd6;left:646px;width:40px;text-align:center;transform:scale(1.6,2);transform-origin:50% 50%;-webkit-text-stroke:0.1px #2a8fd6;">a</div>
<div class="t" style="left:676.6px;top:644.9px;">al doilea din șir să fie de forma <b class="ov">abc d90</b></div>
<div class="hd" style="top:665.4px;font-size:8.5px;line-height:10.2px;color:#2a8fd6;left:646px;width:40px;text-align:center;transform:scale(1.6,2);transform-origin:50% 50%;-webkit-text-stroke:0.1px #2a8fd6;">b</div>
<div class="t" style="left:676.6px;top:665.2px;">primul din șir să fie de forma <b class="ov" style="padding-left:2.6px;margin-left:-1.8px">ab c09</b></div>
<div class="hd" style="top:685.1px;font-size:8.5px;line-height:10.2px;color:#2a8fd6;left:646px;width:40px;text-align:center;transform:scale(1.6,2);transform-origin:50% 50%;-webkit-text-stroke:0.1px #2a8fd6;">c</div>
<div class="t" style="left:676.6px;top:684.9px;">al treilea din șir să fie <b class="ov">ab 100</b></div>
<div class="hd" style="top:690.1px;font-size:7.5px;line-height:9px;color:#fff;left:1084.5px;width:40px;text-align:center;transform:scale(1.48,2);transform-origin:50% 50%;-webkit-text-stroke:0.05px #fff;">3</div>
<svg class="sh" style="left:0;top:0" width="1185" height="739" viewBox="0 0 1185 739"><defs><linearGradient id="gl" x1="0" y1="0" x2="1" y2="0"><stop offset="0" stop-color="#000" stop-opacity="0"/><stop offset="0.3" stop-color="#000" stop-opacity="0.04"/><stop offset="0.65" stop-color="#000" stop-opacity="0.12"/><stop offset="1" stop-color="#000" stop-opacity="0.2"/></linearGradient><linearGradient id="gr" x1="0" y1="0" x2="1" y2="0"><stop offset="0" stop-color="#000" stop-opacity="0.18"/><stop offset="0.4" stop-color="#000" stop-opacity="0.13"/><stop offset="0.75" stop-color="#000" stop-opacity="0.07"/><stop offset="1" stop-color="#000" stop-opacity="0"/></linearGradient><linearGradient id="pe" x1="0" y1="0" x2="0" y2="1"><stop offset="0" stop-color="#000" stop-opacity="0"/><stop offset="1" stop-color="#000" stop-opacity="0.13"/></linearGradient><linearGradient id="s0" x1="0" y1="0" x2="0" y2="1"><stop offset="0.1" stop-color="#a29389"/><stop offset="0.45" stop-color="#8a7a70"/><stop offset="0.78" stop-color="#5a5048"/></linearGradient><linearGradient id="s1" x1="0" y1="0" x2="0" y2="1"><stop offset="0.1" stop-color="#2d2726"/><stop offset="0.45" stop-color="#1d1a19"/><stop offset="0.78" stop-color="#0e0d0d"/></linearGradient><linearGradient id="s2" x1="0" y1="0" x2="0" y2="1"><stop offset="0.1" stop-color="#9d8474"/><stop offset="0.45" stop-color="#7a6a5e"/><stop offset="0.78" stop-color="#564a41"/></linearGradient><linearGradient id="s3" x1="0" y1="0" x2="0" y2="1"><stop offset="0.1" stop-color="#d8cfc8"/><stop offset="0.45" stop-color="#2a2420"/><stop offset="0.78" stop-color="#0c0b0b"/></linearGradient><linearGradient id="s4" x1="0" y1="0" x2="0" y2="1"><stop offset="0.1" stop-color="#a58d7d"/><stop offset="0.45" stop-color="#96867a"/><stop offset="0.78" stop-color="#665a51"/></linearGradient><linearGradient id="s5" x1="0" y1="0" x2="0" y2="1"><stop offset="0.1" stop-color="#e4dcd5"/><stop offset="0.45" stop-color="#e6dad2"/><stop offset="0.78" stop-color="#cbc3bb"/></linearGradient><linearGradient id="s6" x1="0" y1="0" x2="0" y2="1"><stop offset="0.1" stop-color="#8f7464"/><stop offset="0.45" stop-color="#7a6858"/><stop offset="0.78" stop-color="#574a40"/></linearGradient><linearGradient id="s7" x1="0" y1="0" x2="0" y2="1"><stop offset="0.1" stop-color="#4c3c35"/><stop offset="0.45" stop-color="#3a302c"/><stop offset="0.78" stop-color="#342e29"/></linearGradient><linearGradient id="s8" x1="0" y1="0" x2="0" y2="1"><stop offset="0.1" stop-color="#f9f6f3"/><stop offset="0.45" stop-color="#f4f0ec"/><stop offset="0.78" stop-color="#d9d3cf"/></linearGradient><linearGradient id="s9" x1="0" y1="0" x2="0" y2="1"><stop offset="0.1" stop-color="#e0d0c8"/><stop offset="0.45" stop-color="#b09080"/><stop offset="0.78" stop-color="#8a7a6e"/></linearGradient></defs><linearGradient id="tsh2" x1="0" y1="0" x2="0" y2="1"><stop offset="0" stop-color="#5a4a44" stop-opacity="0.75"/><stop offset="0.45" stop-color="#5a4a44" stop-opacity="0.35"/><stop offset="1" stop-color="#5a4a44" stop-opacity="0"/></linearGradient><path d="M284.5 38 L1138 38 L1138 40.8 L284.5 40.8 Z" fill="url(#tsh2)"/><path d="M526 5 L545 6.3 L568 9.7 Q576 11.6 581.8 14.6 L581.8 724 L526 724 Z" fill="url(#gl)"/><path d="M581.8 14.7 C588 11.5 594 9.8 602 9.4 L634 9 L634 724 L581.8 724 Z" fill="url(#gr)"/><rect x="580.9" y="15" width="2.7" height="709" fill="#a3a3a3"/><path d="M1138 600 L1143.4 600 L1145 722.5 L1140.5 722.5 Z" fill="url(#pe)"/><path d="M1137.1 8.2 L1137.8 140 L1139.9 320 L1143.1 560 L1145 722.5 L1150.77 722.5 L1148.83 560 L1145.54 320 L1143.3 140 L1142.49 8.66 Z" fill="url(#s0)"/><path d="M1142.14 8.66 L1142.95 140 L1145.19 320 L1148.48 560 L1150.42 722.5 L1153.75 722.5 L1151.78 560 L1148.43 320 L1146.12 140 L1145.25 8.92 Z" fill="url(#s1)"/><path d="M1144.9 8.92 L1145.77 140 L1148.08 320 L1151.43 560 L1153.4 722.5 L1158.65 722.5 L1156.64 560 L1153.21 320 L1150.77 140 L1149.8 9.34 Z" fill="url(#s2)"/><path d="M1149.45 9.34 L1150.42 140 L1152.86 320 L1156.29 560 L1158.3 722.5 L1160.4 722.5 L1158.37 560 L1154.91 320 L1152.43 140 L1151.42 9.49 Z" fill="url(#s3)"/><path d="M1151.07 9.49 L1152.08 140 L1154.56 320 L1158.02 560 L1160.05 722.5 L1164.95 722.5 L1162.88 560 L1159.35 320 L1156.74 140 L1155.65 9.88 Z" fill="url(#s4)"/><path d="M1155.3 9.88 L1156.39 140 L1159 320 L1162.53 560 L1164.6 722.5 L1166.35 722.5 L1164.27 560 L1160.71 320 L1158.07 140 L1156.95 10 Z" fill="url(#s5)"/><path d="M1156.6 10 L1157.72 140 L1160.36 320 L1163.92 560 L1166 722.5 L1170.9 722.5 L1168.78 560 L1165.14 320 L1162.39 140 L1161.17 10.39 Z" fill="url(#s6)"/><path d="M1160.82 10.39 L1162.04 140 L1164.79 320 L1168.43 560 L1170.55 722.5 L1173.35 722.5 L1171.21 560 L1167.53 320 L1164.71 140 L1163.45 10.6 Z" fill="url(#s7)"/><path d="M1163.1 10.6 L1164.36 140 L1167.18 320 L1170.86 560 L1173 720.8 L1179.3 720.8 L1177.11 560 L1173.33 320 L1170.35 140 L1168.97 11.11 Z" fill="url(#s8)"/><path d="M1168.62 11.11 L1170 140 L1172.98 320 L1176.76 560 L1178.95 720.8 L1180.35 720.8 L1178.15 560 L1174.35 320 L1171.35 140 L1169.95 11.2 Z" fill="url(#s9)"/><path d="M0 724 L3 722 L92 722 L104 724.9 L300 724.9 L581 724.1 L985 723.5 L1095 722.5 L1145 722.3 L1180 721 L1185 722 L1185 739 L0 739 Z" fill="#9a9a9a"/><path d="M3 722 L60 722 L94 722.2 L108 724.6 L60 724.3 L30 724.6 L6 724.8 Q3.2 724.6 3 722 Z" fill="#231a1a"/><path d="M985 723 L1095 722 L1145 721.8 L1145 723 L1095 723.2 L985 724.2 Z" fill="#5d4a42" opacity="0.6"/><filter id="bl" x="-5%" y="-50%" width="110%" height="200%"><feGaussianBlur stdDeviation="1.6"/></filter><g filter="url(#bl)" fill="#fff" opacity="0.8"><path d="M-6 732.5 L40 734 L120 735.8 L250 737.8 L410 740.5 L410 746 L-6 746 Z"/><path d="M1191 729 L1170 731.5 L1120 734.5 L1030 737.4 L890 740.5 L890 746 L1191 746 Z"/><path d="M1182.5 716 L1191 716 L1191 746 L1184 746 Z"/></g><rect x="566" y="735.5" width="30" height="3.5" fill="url(#spot)"/></svg>
</div></body></html>
